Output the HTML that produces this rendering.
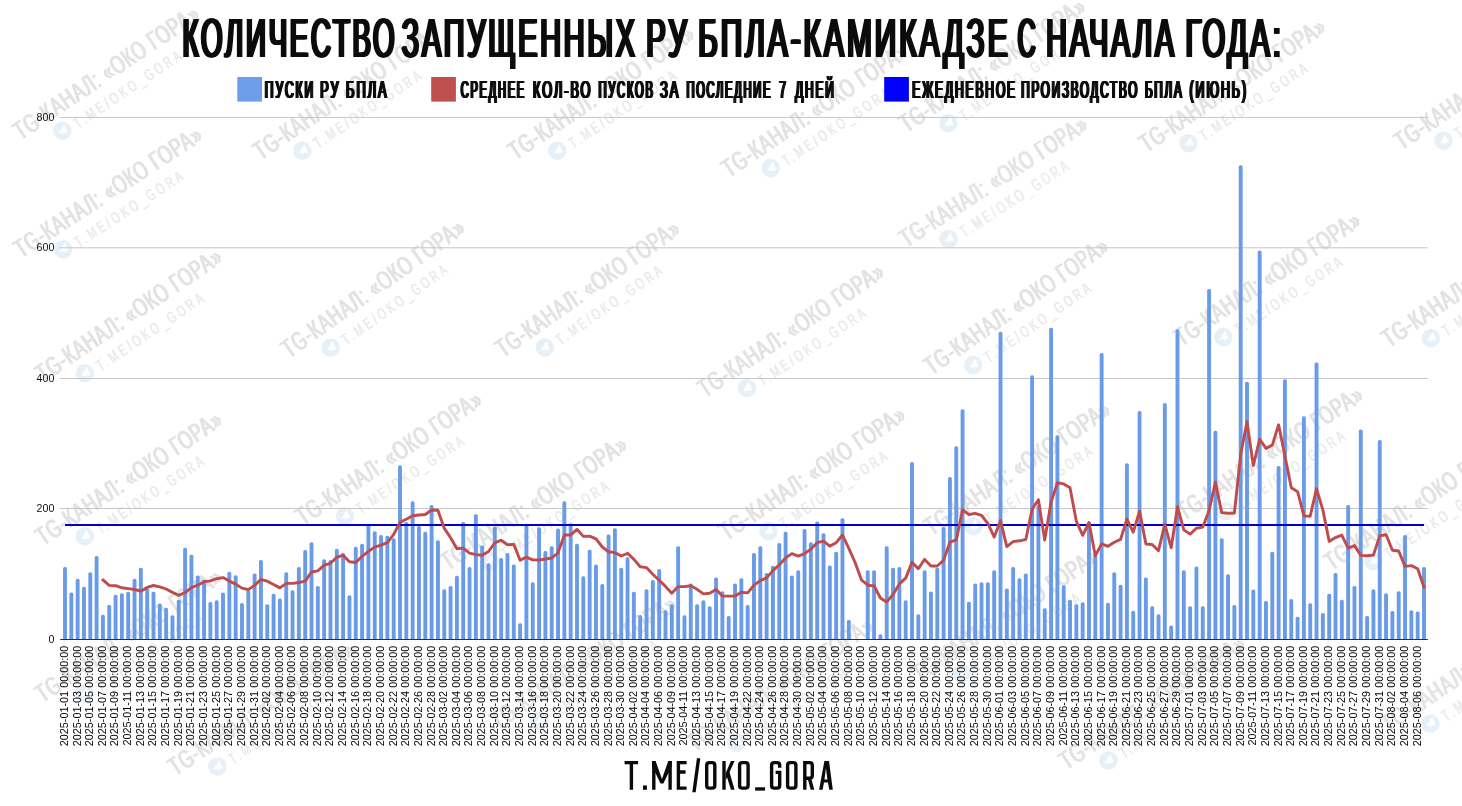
<!DOCTYPE html>
<html lang="ru"><head><meta charset="utf-8"><title>БПЛА</title>
<style>html,body{margin:0;padding:0;background:#fff}body{width:1462px;height:806px;overflow:hidden;font-family:"Liberation Sans",sans-serif}svg{display:block}.sf{filter:blur(0.35px)}text{font-family:"Liberation Sans",sans-serif}</style>
</head><body>
<svg width="1462" height="806" viewBox="0 0 1462 806">
<rect width="1462" height="806" fill="#fff"/>
<g id="watermarks" style="filter:blur(0.5px)">
<g transform="translate(20.0 141.2) rotate(-34.0)"><g font-size="26" fill="#e3e3e3" letter-spacing="1.5"><text x="0.3" y="0" textLength="219" lengthAdjust="spacingAndGlyphs">TG-КАНАЛ: «ОКО ГОРА»</text><text x="1.0" y="0" textLength="219" lengthAdjust="spacingAndGlyphs">TG-КАНАЛ: «ОКО ГОРА»</text><text x="1.7" y="0" textLength="219" lengthAdjust="spacingAndGlyphs">TG-КАНАЛ: «ОКО ГОРА»</text></g><circle cx="41" cy="15" r="9.2" fill="#e6f0f9"/><path d="M36.2,15.2 L46.2,10.6 L44.4,19.8 L41.3,17.6 L39.8,19.2 L39.6,16.6 Z" fill="#fff"/><g font-size="16" fill="#eaeaea" letter-spacing="5"><text x="54.7" y="22.5" textLength="129" lengthAdjust="spacingAndGlyphs">T.ME/OKO_GORA</text><text x="55.3" y="22.5" textLength="129" lengthAdjust="spacingAndGlyphs">T.ME/OKO_GORA</text></g></g>
<g transform="translate(260.0 161.2) rotate(-34.0)"><g font-size="26" fill="#e3e3e3" letter-spacing="1.5"><text x="0.3" y="0" textLength="219" lengthAdjust="spacingAndGlyphs">TG-КАНАЛ: «ОКО ГОРА»</text><text x="1.0" y="0" textLength="219" lengthAdjust="spacingAndGlyphs">TG-КАНАЛ: «ОКО ГОРА»</text><text x="1.7" y="0" textLength="219" lengthAdjust="spacingAndGlyphs">TG-КАНАЛ: «ОКО ГОРА»</text></g><circle cx="41" cy="15" r="9.2" fill="#e6f0f9"/><path d="M36.2,15.2 L46.2,10.6 L44.4,19.8 L41.3,17.6 L39.8,19.2 L39.6,16.6 Z" fill="#fff"/><g font-size="16" fill="#eaeaea" letter-spacing="5"><text x="54.7" y="22.5" textLength="129" lengthAdjust="spacingAndGlyphs">T.ME/OKO_GORA</text><text x="55.3" y="22.5" textLength="129" lengthAdjust="spacingAndGlyphs">T.ME/OKO_GORA</text></g></g>
<g transform="translate(515.0 161.2) rotate(-34.0)"><g font-size="26" fill="#e3e3e3" letter-spacing="1.5"><text x="0.3" y="0" textLength="219" lengthAdjust="spacingAndGlyphs">TG-КАНАЛ: «ОКО ГОРА»</text><text x="1.0" y="0" textLength="219" lengthAdjust="spacingAndGlyphs">TG-КАНАЛ: «ОКО ГОРА»</text><text x="1.7" y="0" textLength="219" lengthAdjust="spacingAndGlyphs">TG-КАНАЛ: «ОКО ГОРА»</text></g><circle cx="41" cy="15" r="9.2" fill="#e6f0f9"/><path d="M36.2,15.2 L46.2,10.6 L44.4,19.8 L41.3,17.6 L39.8,19.2 L39.6,16.6 Z" fill="#fff"/><g font-size="16" fill="#eaeaea" letter-spacing="5"><text x="54.7" y="22.5" textLength="129" lengthAdjust="spacingAndGlyphs">T.ME/OKO_GORA</text><text x="55.3" y="22.5" textLength="129" lengthAdjust="spacingAndGlyphs">T.ME/OKO_GORA</text></g></g>
<g transform="translate(728.5 178.7) rotate(-34.0)"><g font-size="26" fill="#e3e3e3" letter-spacing="1.5"><text x="0.3" y="0" textLength="219" lengthAdjust="spacingAndGlyphs">TG-КАНАЛ: «ОКО ГОРА»</text><text x="1.0" y="0" textLength="219" lengthAdjust="spacingAndGlyphs">TG-КАНАЛ: «ОКО ГОРА»</text><text x="1.7" y="0" textLength="219" lengthAdjust="spacingAndGlyphs">TG-КАНАЛ: «ОКО ГОРА»</text></g><circle cx="41" cy="15" r="9.2" fill="#e6f0f9"/><path d="M36.2,15.2 L46.2,10.6 L44.4,19.8 L41.3,17.6 L39.8,19.2 L39.6,16.6 Z" fill="#fff"/><g font-size="16" fill="#eaeaea" letter-spacing="5"><text x="54.7" y="22.5" textLength="129" lengthAdjust="spacingAndGlyphs">T.ME/OKO_GORA</text><text x="55.3" y="22.5" textLength="129" lengthAdjust="spacingAndGlyphs">T.ME/OKO_GORA</text></g></g>
<g transform="translate(906.0 133.7) rotate(-34.0)"><g font-size="26" fill="#e3e3e3" letter-spacing="1.5"><text x="0.3" y="0" textLength="219" lengthAdjust="spacingAndGlyphs">TG-КАНАЛ: «ОКО ГОРА»</text><text x="1.0" y="0" textLength="219" lengthAdjust="spacingAndGlyphs">TG-КАНАЛ: «ОКО ГОРА»</text><text x="1.7" y="0" textLength="219" lengthAdjust="spacingAndGlyphs">TG-КАНАЛ: «ОКО ГОРА»</text></g><circle cx="41" cy="15" r="9.2" fill="#e6f0f9"/><path d="M36.2,15.2 L46.2,10.6 L44.4,19.8 L41.3,17.6 L39.8,19.2 L39.6,16.6 Z" fill="#fff"/><g font-size="16" fill="#eaeaea" letter-spacing="5"><text x="54.7" y="22.5" textLength="129" lengthAdjust="spacingAndGlyphs">T.ME/OKO_GORA</text><text x="55.3" y="22.5" textLength="129" lengthAdjust="spacingAndGlyphs">T.ME/OKO_GORA</text></g></g>
<g transform="translate(1146.0 153.7) rotate(-34.0)"><g font-size="26" fill="#e3e3e3" letter-spacing="1.5"><text x="0.3" y="0" textLength="219" lengthAdjust="spacingAndGlyphs">TG-КАНАЛ: «ОКО ГОРА»</text><text x="1.0" y="0" textLength="219" lengthAdjust="spacingAndGlyphs">TG-КАНАЛ: «ОКО ГОРА»</text><text x="1.7" y="0" textLength="219" lengthAdjust="spacingAndGlyphs">TG-КАНАЛ: «ОКО ГОРА»</text></g><circle cx="41" cy="15" r="9.2" fill="#e6f0f9"/><path d="M36.2,15.2 L46.2,10.6 L44.4,19.8 L41.3,17.6 L39.8,19.2 L39.6,16.6 Z" fill="#fff"/><g font-size="16" fill="#eaeaea" letter-spacing="5"><text x="54.7" y="22.5" textLength="129" lengthAdjust="spacingAndGlyphs">T.ME/OKO_GORA</text><text x="55.3" y="22.5" textLength="129" lengthAdjust="spacingAndGlyphs">T.ME/OKO_GORA</text></g></g>
<g transform="translate(1401.0 151.2) rotate(-34.0)"><g font-size="26" fill="#e3e3e3" letter-spacing="1.5"><text x="0.3" y="0" textLength="219" lengthAdjust="spacingAndGlyphs">TG-КАНАЛ: «ОКО ГОРА»</text><text x="1.0" y="0" textLength="219" lengthAdjust="spacingAndGlyphs">TG-КАНАЛ: «ОКО ГОРА»</text><text x="1.7" y="0" textLength="219" lengthAdjust="spacingAndGlyphs">TG-КАНАЛ: «ОКО ГОРА»</text></g><circle cx="41" cy="15" r="9.2" fill="#e6f0f9"/><path d="M36.2,15.2 L46.2,10.6 L44.4,19.8 L41.3,17.6 L39.8,19.2 L39.6,16.6 Z" fill="#fff"/><g font-size="16" fill="#eaeaea" letter-spacing="5"><text x="54.7" y="22.5" textLength="129" lengthAdjust="spacingAndGlyphs">T.ME/OKO_GORA</text><text x="55.3" y="22.5" textLength="129" lengthAdjust="spacingAndGlyphs">T.ME/OKO_GORA</text></g></g>
<g transform="translate(20.5 259.0) rotate(-33.0)"><g font-size="26" fill="#e3e3e3" letter-spacing="1.5"><text x="0.3" y="0" textLength="219" lengthAdjust="spacingAndGlyphs">TG-КАНАЛ: «ОКО ГОРА»</text><text x="1.0" y="0" textLength="219" lengthAdjust="spacingAndGlyphs">TG-КАНАЛ: «ОКО ГОРА»</text><text x="1.7" y="0" textLength="219" lengthAdjust="spacingAndGlyphs">TG-КАНАЛ: «ОКО ГОРА»</text></g><circle cx="41" cy="15" r="9.2" fill="#e6f0f9"/><path d="M36.2,15.2 L46.2,10.6 L44.4,19.8 L41.3,17.6 L39.8,19.2 L39.6,16.6 Z" fill="#fff"/><g font-size="16" fill="#eaeaea" letter-spacing="5"><text x="54.7" y="22.5" textLength="129" lengthAdjust="spacingAndGlyphs">T.ME/OKO_GORA</text><text x="55.3" y="22.5" textLength="129" lengthAdjust="spacingAndGlyphs">T.ME/OKO_GORA</text></g></g>
<g transform="translate(906.0 248.7) rotate(-33.0)"><g font-size="26" fill="#e3e3e3" letter-spacing="1.5"><text x="0.3" y="0" textLength="219" lengthAdjust="spacingAndGlyphs">TG-КАНАЛ: «ОКО ГОРА»</text><text x="1.0" y="0" textLength="219" lengthAdjust="spacingAndGlyphs">TG-КАНАЛ: «ОКО ГОРА»</text><text x="1.7" y="0" textLength="219" lengthAdjust="spacingAndGlyphs">TG-КАНАЛ: «ОКО ГОРА»</text></g><circle cx="41" cy="15" r="9.2" fill="#e6f0f9"/><path d="M36.2,15.2 L46.2,10.6 L44.4,19.8 L41.3,17.6 L39.8,19.2 L39.6,16.6 Z" fill="#fff"/><g font-size="16" fill="#eaeaea" letter-spacing="5"><text x="54.7" y="22.5" textLength="129" lengthAdjust="spacingAndGlyphs">T.ME/OKO_GORA</text><text x="55.3" y="22.5" textLength="129" lengthAdjust="spacingAndGlyphs">T.ME/OKO_GORA</text></g></g>
<g transform="translate(42.5 383.7) rotate(-34.0)"><g font-size="26" fill="#e3e3e3" letter-spacing="1.5"><text x="0.3" y="0" textLength="219" lengthAdjust="spacingAndGlyphs">TG-КАНАЛ: «ОКО ГОРА»</text><text x="1.0" y="0" textLength="219" lengthAdjust="spacingAndGlyphs">TG-КАНАЛ: «ОКО ГОРА»</text><text x="1.7" y="0" textLength="219" lengthAdjust="spacingAndGlyphs">TG-КАНАЛ: «ОКО ГОРА»</text></g><circle cx="41" cy="15" r="9.2" fill="#e6f0f9"/><path d="M36.2,15.2 L46.2,10.6 L44.4,19.8 L41.3,17.6 L39.8,19.2 L39.6,16.6 Z" fill="#fff"/><g font-size="16" fill="#eaeaea" letter-spacing="5"><text x="54.7" y="22.5" textLength="129" lengthAdjust="spacingAndGlyphs">T.ME/OKO_GORA</text><text x="55.3" y="22.5" textLength="129" lengthAdjust="spacingAndGlyphs">T.ME/OKO_GORA</text></g></g>
<g transform="translate(288.6 359.2) rotate(-35.5)"><g font-size="26" fill="#e3e3e3" letter-spacing="1.5"><text x="0.3" y="0" textLength="219" lengthAdjust="spacingAndGlyphs">TG-КАНАЛ: «ОКО ГОРА»</text><text x="1.0" y="0" textLength="219" lengthAdjust="spacingAndGlyphs">TG-КАНАЛ: «ОКО ГОРА»</text><text x="1.7" y="0" textLength="219" lengthAdjust="spacingAndGlyphs">TG-КАНАЛ: «ОКО ГОРА»</text></g><circle cx="41" cy="15" r="9.2" fill="#e6f0f9"/><path d="M36.2,15.2 L46.2,10.6 L44.4,19.8 L41.3,17.6 L39.8,19.2 L39.6,16.6 Z" fill="#fff"/><g font-size="16" fill="#eaeaea" letter-spacing="5"><text x="54.7" y="22.5" textLength="129" lengthAdjust="spacingAndGlyphs">T.ME/OKO_GORA</text><text x="55.3" y="22.5" textLength="129" lengthAdjust="spacingAndGlyphs">T.ME/OKO_GORA</text></g></g>
<g transform="translate(502.5 358.7) rotate(-35.0)"><g font-size="26" fill="#e3e3e3" letter-spacing="1.5"><text x="0.3" y="0" textLength="219" lengthAdjust="spacingAndGlyphs">TG-КАНАЛ: «ОКО ГОРА»</text><text x="1.0" y="0" textLength="219" lengthAdjust="spacingAndGlyphs">TG-КАНАЛ: «ОКО ГОРА»</text><text x="1.7" y="0" textLength="219" lengthAdjust="spacingAndGlyphs">TG-КАНАЛ: «ОКО ГОРА»</text></g><circle cx="41" cy="15" r="9.2" fill="#e6f0f9"/><path d="M36.2,15.2 L46.2,10.6 L44.4,19.8 L41.3,17.6 L39.8,19.2 L39.6,16.6 Z" fill="#fff"/><g font-size="16" fill="#eaeaea" letter-spacing="5"><text x="54.7" y="22.5" textLength="129" lengthAdjust="spacingAndGlyphs">T.ME/OKO_GORA</text><text x="55.3" y="22.5" textLength="129" lengthAdjust="spacingAndGlyphs">T.ME/OKO_GORA</text></g></g>
<g transform="translate(704.5 398.7) rotate(-34.0)"><g font-size="26" fill="#e3e3e3" letter-spacing="1.5"><text x="0.3" y="0" textLength="219" lengthAdjust="spacingAndGlyphs">TG-КАНАЛ: «ОКО ГОРА»</text><text x="1.0" y="0" textLength="219" lengthAdjust="spacingAndGlyphs">TG-КАНАЛ: «ОКО ГОРА»</text><text x="1.7" y="0" textLength="219" lengthAdjust="spacingAndGlyphs">TG-КАНАЛ: «ОКО ГОРА»</text></g><circle cx="41" cy="15" r="9.2" fill="#e6f0f9"/><path d="M36.2,15.2 L46.2,10.6 L44.4,19.8 L41.3,17.6 L39.8,19.2 L39.6,16.6 Z" fill="#fff"/><g font-size="16" fill="#eaeaea" letter-spacing="5"><text x="54.7" y="22.5" textLength="129" lengthAdjust="spacingAndGlyphs">T.ME/OKO_GORA</text><text x="55.3" y="22.5" textLength="129" lengthAdjust="spacingAndGlyphs">T.ME/OKO_GORA</text></g></g>
<g transform="translate(931.0 376.2) rotate(-35.0)"><g font-size="26" fill="#e3e3e3" letter-spacing="1.5"><text x="0.3" y="0" textLength="219" lengthAdjust="spacingAndGlyphs">TG-КАНАЛ: «ОКО ГОРА»</text><text x="1.0" y="0" textLength="219" lengthAdjust="spacingAndGlyphs">TG-КАНАЛ: «ОКО ГОРА»</text><text x="1.7" y="0" textLength="219" lengthAdjust="spacingAndGlyphs">TG-КАНАЛ: «ОКО ГОРА»</text></g><circle cx="41" cy="15" r="9.2" fill="#e6f0f9"/><path d="M36.2,15.2 L46.2,10.6 L44.4,19.8 L41.3,17.6 L39.8,19.2 L39.6,16.6 Z" fill="#fff"/><g font-size="16" fill="#eaeaea" letter-spacing="5"><text x="54.7" y="22.5" textLength="129" lengthAdjust="spacingAndGlyphs">T.ME/OKO_GORA</text><text x="55.3" y="22.5" textLength="129" lengthAdjust="spacingAndGlyphs">T.ME/OKO_GORA</text></g></g>
<g transform="translate(1181.0 347.5) rotate(-34.0)"><g font-size="26" fill="#e3e3e3" letter-spacing="1.5"><text x="0.3" y="0" textLength="219" lengthAdjust="spacingAndGlyphs">TG-КАНАЛ: «ОКО ГОРА»</text><text x="1.0" y="0" textLength="219" lengthAdjust="spacingAndGlyphs">TG-КАНАЛ: «ОКО ГОРА»</text><text x="1.7" y="0" textLength="219" lengthAdjust="spacingAndGlyphs">TG-КАНАЛ: «ОКО ГОРА»</text></g><circle cx="41" cy="15" r="9.2" fill="#e6f0f9"/><path d="M36.2,15.2 L46.2,10.6 L44.4,19.8 L41.3,17.6 L39.8,19.2 L39.6,16.6 Z" fill="#fff"/><g font-size="16" fill="#eaeaea" letter-spacing="5"><text x="54.7" y="22.5" textLength="129" lengthAdjust="spacingAndGlyphs">T.ME/OKO_GORA</text><text x="55.3" y="22.5" textLength="129" lengthAdjust="spacingAndGlyphs">T.ME/OKO_GORA</text></g></g>
<g transform="translate(1388.5 348.7) rotate(-34.0)"><g font-size="26" fill="#e3e3e3" letter-spacing="1.5"><text x="0.3" y="0" textLength="219" lengthAdjust="spacingAndGlyphs">TG-КАНАЛ: «ОКО ГОРА»</text><text x="1.0" y="0" textLength="219" lengthAdjust="spacingAndGlyphs">TG-КАНАЛ: «ОКО ГОРА»</text><text x="1.7" y="0" textLength="219" lengthAdjust="spacingAndGlyphs">TG-КАНАЛ: «ОКО ГОРА»</text></g><circle cx="41" cy="15" r="9.2" fill="#e6f0f9"/><path d="M36.2,15.2 L46.2,10.6 L44.4,19.8 L41.3,17.6 L39.8,19.2 L39.6,16.6 Z" fill="#fff"/><g font-size="16" fill="#eaeaea" letter-spacing="5"><text x="54.7" y="22.5" textLength="129" lengthAdjust="spacingAndGlyphs">T.ME/OKO_GORA</text><text x="55.3" y="22.5" textLength="129" lengthAdjust="spacingAndGlyphs">T.ME/OKO_GORA</text></g></g>
<g transform="translate(42.5 546.7) rotate(-34.0)"><g font-size="26" fill="#e3e3e3" letter-spacing="1.5"><text x="0.3" y="0" textLength="219" lengthAdjust="spacingAndGlyphs">TG-КАНАЛ: «ОКО ГОРА»</text><text x="1.0" y="0" textLength="219" lengthAdjust="spacingAndGlyphs">TG-КАНАЛ: «ОКО ГОРА»</text><text x="1.7" y="0" textLength="219" lengthAdjust="spacingAndGlyphs">TG-КАНАЛ: «ОКО ГОРА»</text></g><circle cx="41" cy="15" r="9.2" fill="#e6f0f9"/><path d="M36.2,15.2 L46.2,10.6 L44.4,19.8 L41.3,17.6 L39.8,19.2 L39.6,16.6 Z" fill="#fff"/><g font-size="16" fill="#eaeaea" letter-spacing="5"><text x="54.7" y="22.5" textLength="129" lengthAdjust="spacingAndGlyphs">T.ME/OKO_GORA</text><text x="55.3" y="22.5" textLength="129" lengthAdjust="spacingAndGlyphs">T.ME/OKO_GORA</text></g></g>
<g transform="translate(302.5 526.7) rotate(-34.0)"><g font-size="26" fill="#e3e3e3" letter-spacing="1.5"><text x="0.3" y="0" textLength="219" lengthAdjust="spacingAndGlyphs">TG-КАНАЛ: «ОКО ГОРА»</text><text x="1.0" y="0" textLength="219" lengthAdjust="spacingAndGlyphs">TG-КАНАЛ: «ОКО ГОРА»</text><text x="1.7" y="0" textLength="219" lengthAdjust="spacingAndGlyphs">TG-КАНАЛ: «ОКО ГОРА»</text></g><circle cx="41" cy="15" r="9.2" fill="#e6f0f9"/><path d="M36.2,15.2 L46.2,10.6 L44.4,19.8 L41.3,17.6 L39.8,19.2 L39.6,16.6 Z" fill="#fff"/><g font-size="16" fill="#eaeaea" letter-spacing="5"><text x="54.7" y="22.5" textLength="129" lengthAdjust="spacingAndGlyphs">T.ME/OKO_GORA</text><text x="55.3" y="22.5" textLength="129" lengthAdjust="spacingAndGlyphs">T.ME/OKO_GORA</text></g></g>
<g transform="translate(447.5 571.7) rotate(-34.0)"><g font-size="26" fill="#e3e3e3" letter-spacing="1.5"><text x="0.3" y="0" textLength="219" lengthAdjust="spacingAndGlyphs">TG-КАНАЛ: «ОКО ГОРА»</text><text x="1.0" y="0" textLength="219" lengthAdjust="spacingAndGlyphs">TG-КАНАЛ: «ОКО ГОРА»</text><text x="1.7" y="0" textLength="219" lengthAdjust="spacingAndGlyphs">TG-КАНАЛ: «ОКО ГОРА»</text></g><circle cx="41" cy="15" r="9.2" fill="#e6f0f9"/><path d="M36.2,15.2 L46.2,10.6 L44.4,19.8 L41.3,17.6 L39.8,19.2 L39.6,16.6 Z" fill="#fff"/><g font-size="16" fill="#eaeaea" letter-spacing="5"><text x="54.7" y="22.5" textLength="129" lengthAdjust="spacingAndGlyphs">T.ME/OKO_GORA</text><text x="55.3" y="22.5" textLength="129" lengthAdjust="spacingAndGlyphs">T.ME/OKO_GORA</text></g></g>
<g transform="translate(726.0 541.7) rotate(-34.0)"><g font-size="26" fill="#e3e3e3" letter-spacing="1.5"><text x="0.3" y="0" textLength="219" lengthAdjust="spacingAndGlyphs">TG-КАНАЛ: «ОКО ГОРА»</text><text x="1.0" y="0" textLength="219" lengthAdjust="spacingAndGlyphs">TG-КАНАЛ: «ОКО ГОРА»</text><text x="1.7" y="0" textLength="219" lengthAdjust="spacingAndGlyphs">TG-КАНАЛ: «ОКО ГОРА»</text></g><circle cx="41" cy="15" r="9.2" fill="#e6f0f9"/><path d="M36.2,15.2 L46.2,10.6 L44.4,19.8 L41.3,17.6 L39.8,19.2 L39.6,16.6 Z" fill="#fff"/><g font-size="16" fill="#eaeaea" letter-spacing="5"><text x="54.7" y="22.5" textLength="129" lengthAdjust="spacingAndGlyphs">T.ME/OKO_GORA</text><text x="55.3" y="22.5" textLength="129" lengthAdjust="spacingAndGlyphs">T.ME/OKO_GORA</text></g></g>
<g transform="translate(931.0 536.7) rotate(-34.0)"><g font-size="26" fill="#e3e3e3" letter-spacing="1.5"><text x="0.3" y="0" textLength="219" lengthAdjust="spacingAndGlyphs">TG-КАНАЛ: «ОКО ГОРА»</text><text x="1.0" y="0" textLength="219" lengthAdjust="spacingAndGlyphs">TG-КАНАЛ: «ОКО ГОРА»</text><text x="1.7" y="0" textLength="219" lengthAdjust="spacingAndGlyphs">TG-КАНАЛ: «ОКО ГОРА»</text></g><circle cx="41" cy="15" r="9.2" fill="#e6f0f9"/><path d="M36.2,15.2 L46.2,10.6 L44.4,19.8 L41.3,17.6 L39.8,19.2 L39.6,16.6 Z" fill="#fff"/><g font-size="16" fill="#eaeaea" letter-spacing="5"><text x="54.7" y="22.5" textLength="129" lengthAdjust="spacingAndGlyphs">T.ME/OKO_GORA</text><text x="55.3" y="22.5" textLength="129" lengthAdjust="spacingAndGlyphs">T.ME/OKO_GORA</text></g></g>
<g transform="translate(1183.5 521.7) rotate(-34.0)"><g font-size="26" fill="#e3e3e3" letter-spacing="1.5"><text x="0.3" y="0" textLength="219" lengthAdjust="spacingAndGlyphs">TG-КАНАЛ: «ОКО ГОРА»</text><text x="1.0" y="0" textLength="219" lengthAdjust="spacingAndGlyphs">TG-КАНАЛ: «ОКО ГОРА»</text><text x="1.7" y="0" textLength="219" lengthAdjust="spacingAndGlyphs">TG-КАНАЛ: «ОКО ГОРА»</text></g><circle cx="41" cy="15" r="9.2" fill="#e6f0f9"/><path d="M36.2,15.2 L46.2,10.6 L44.4,19.8 L41.3,17.6 L39.8,19.2 L39.6,16.6 Z" fill="#fff"/><g font-size="16" fill="#eaeaea" letter-spacing="5"><text x="54.7" y="22.5" textLength="129" lengthAdjust="spacingAndGlyphs">T.ME/OKO_GORA</text><text x="55.3" y="22.5" textLength="129" lengthAdjust="spacingAndGlyphs">T.ME/OKO_GORA</text></g></g>
<g transform="translate(1331.0 571.7) rotate(-34.0)"><g font-size="26" fill="#e3e3e3" letter-spacing="1.5"><text x="0.3" y="0" textLength="219" lengthAdjust="spacingAndGlyphs">TG-КАНАЛ: «ОКО ГОРА»</text><text x="1.0" y="0" textLength="219" lengthAdjust="spacingAndGlyphs">TG-КАНАЛ: «ОКО ГОРА»</text><text x="1.7" y="0" textLength="219" lengthAdjust="spacingAndGlyphs">TG-КАНАЛ: «ОКО ГОРА»</text></g><circle cx="41" cy="15" r="9.2" fill="#e6f0f9"/><path d="M36.2,15.2 L46.2,10.6 L44.4,19.8 L41.3,17.6 L39.8,19.2 L39.6,16.6 Z" fill="#fff"/><g font-size="16" fill="#eaeaea" letter-spacing="5"><text x="54.7" y="22.5" textLength="129" lengthAdjust="spacingAndGlyphs">T.ME/OKO_GORA</text><text x="55.3" y="22.5" textLength="129" lengthAdjust="spacingAndGlyphs">T.ME/OKO_GORA</text></g></g>
<g transform="translate(42.0 704.0) rotate(-34.0)"><g font-size="26" fill="#e3e3e3" letter-spacing="1.5"><text x="0.3" y="0" textLength="219" lengthAdjust="spacingAndGlyphs">TG-КАНАЛ: «ОКО ГОРА»</text><text x="1.0" y="0" textLength="219" lengthAdjust="spacingAndGlyphs">TG-КАНАЛ: «ОКО ГОРА»</text><text x="1.7" y="0" textLength="219" lengthAdjust="spacingAndGlyphs">TG-КАНАЛ: «ОКО ГОРА»</text></g><circle cx="41" cy="15" r="9.2" fill="#e6f0f9"/><path d="M36.2,15.2 L46.2,10.6 L44.4,19.8 L41.3,17.6 L39.8,19.2 L39.6,16.6 Z" fill="#fff"/><g font-size="16" fill="#eaeaea" letter-spacing="5"><text x="54.7" y="22.5" textLength="129" lengthAdjust="spacingAndGlyphs">T.ME/OKO_GORA</text><text x="55.3" y="22.5" textLength="129" lengthAdjust="spacingAndGlyphs">T.ME/OKO_GORA</text></g></g>
<g transform="translate(175.0 777.0) rotate(-34.0)"><g font-size="26" fill="#e3e3e3" letter-spacing="1.5"><text x="0.3" y="0" textLength="219" lengthAdjust="spacingAndGlyphs">TG-КАНАЛ: «ОКО ГОРА»</text><text x="1.0" y="0" textLength="219" lengthAdjust="spacingAndGlyphs">TG-КАНАЛ: «ОКО ГОРА»</text><text x="1.7" y="0" textLength="219" lengthAdjust="spacingAndGlyphs">TG-КАНАЛ: «ОКО ГОРА»</text></g><circle cx="41" cy="15" r="9.2" fill="#e6f0f9"/><path d="M36.2,15.2 L46.2,10.6 L44.4,19.8 L41.3,17.6 L39.8,19.2 L39.6,16.6 Z" fill="#fff"/><g font-size="16" fill="#eaeaea" letter-spacing="5"><text x="54.7" y="22.5" textLength="129" lengthAdjust="spacingAndGlyphs">T.ME/OKO_GORA</text><text x="55.3" y="22.5" textLength="129" lengthAdjust="spacingAndGlyphs">T.ME/OKO_GORA</text></g></g>
<g transform="translate(497.0 731.0) rotate(-34.0)"><g font-size="26" fill="#e3e3e3" letter-spacing="1.5"><text x="0.3" y="0" textLength="219" lengthAdjust="spacingAndGlyphs">TG-КАНАЛ: «ОКО ГОРА»</text><text x="1.0" y="0" textLength="219" lengthAdjust="spacingAndGlyphs">TG-КАНАЛ: «ОКО ГОРА»</text><text x="1.7" y="0" textLength="219" lengthAdjust="spacingAndGlyphs">TG-КАНАЛ: «ОКО ГОРА»</text></g><circle cx="41" cy="15" r="9.2" fill="#e6f0f9"/><path d="M36.2,15.2 L46.2,10.6 L44.4,19.8 L41.3,17.6 L39.8,19.2 L39.6,16.6 Z" fill="#fff"/><g font-size="16" fill="#eaeaea" letter-spacing="5"><text x="54.7" y="22.5" textLength="129" lengthAdjust="spacingAndGlyphs">T.ME/OKO_GORA</text><text x="55.3" y="22.5" textLength="129" lengthAdjust="spacingAndGlyphs">T.ME/OKO_GORA</text></g></g>
<g transform="translate(694.0 753.0) rotate(-34.0)"><g font-size="26" fill="#e3e3e3" letter-spacing="1.5"><text x="0.3" y="0" textLength="219" lengthAdjust="spacingAndGlyphs">TG-КАНАЛ: «ОКО ГОРА»</text><text x="1.0" y="0" textLength="219" lengthAdjust="spacingAndGlyphs">TG-КАНАЛ: «ОКО ГОРА»</text><text x="1.7" y="0" textLength="219" lengthAdjust="spacingAndGlyphs">TG-КАНАЛ: «ОКО ГОРА»</text></g><circle cx="41" cy="15" r="9.2" fill="#e6f0f9"/><path d="M36.2,15.2 L46.2,10.6 L44.4,19.8 L41.3,17.6 L39.8,19.2 L39.6,16.6 Z" fill="#fff"/><g font-size="16" fill="#eaeaea" letter-spacing="5"><text x="54.7" y="22.5" textLength="129" lengthAdjust="spacingAndGlyphs">T.ME/OKO_GORA</text><text x="55.3" y="22.5" textLength="129" lengthAdjust="spacingAndGlyphs">T.ME/OKO_GORA</text></g></g>
<g transform="translate(919.0 684.0) rotate(-34.0)"><g font-size="26" fill="#e3e3e3" letter-spacing="1.5"><text x="0.3" y="0" textLength="219" lengthAdjust="spacingAndGlyphs">TG-КАНАЛ: «ОКО ГОРА»</text><text x="1.0" y="0" textLength="219" lengthAdjust="spacingAndGlyphs">TG-КАНАЛ: «ОКО ГОРА»</text><text x="1.7" y="0" textLength="219" lengthAdjust="spacingAndGlyphs">TG-КАНАЛ: «ОКО ГОРА»</text></g><circle cx="41" cy="15" r="9.2" fill="#e6f0f9"/><path d="M36.2,15.2 L46.2,10.6 L44.4,19.8 L41.3,17.6 L39.8,19.2 L39.6,16.6 Z" fill="#fff"/><g font-size="16" fill="#eaeaea" letter-spacing="5"><text x="54.7" y="22.5" textLength="129" lengthAdjust="spacingAndGlyphs">T.ME/OKO_GORA</text><text x="55.3" y="22.5" textLength="129" lengthAdjust="spacingAndGlyphs">T.ME/OKO_GORA</text></g></g>
<g transform="translate(1066.0 771.0) rotate(-34.0)"><g font-size="26" fill="#e3e3e3" letter-spacing="1.5"><text x="0.3" y="0" textLength="219" lengthAdjust="spacingAndGlyphs">TG-КАНАЛ: «ОКО ГОРА»</text><text x="1.0" y="0" textLength="219" lengthAdjust="spacingAndGlyphs">TG-КАНАЛ: «ОКО ГОРА»</text><text x="1.7" y="0" textLength="219" lengthAdjust="spacingAndGlyphs">TG-КАНАЛ: «ОКО ГОРА»</text></g><circle cx="41" cy="15" r="9.2" fill="#e6f0f9"/><path d="M36.2,15.2 L46.2,10.6 L44.4,19.8 L41.3,17.6 L39.8,19.2 L39.6,16.6 Z" fill="#fff"/><g font-size="16" fill="#eaeaea" letter-spacing="5"><text x="54.7" y="22.5" textLength="129" lengthAdjust="spacingAndGlyphs">T.ME/OKO_GORA</text><text x="55.3" y="22.5" textLength="129" lengthAdjust="spacingAndGlyphs">T.ME/OKO_GORA</text></g></g>
<g transform="translate(1388.0 734.0) rotate(-34.0)"><g font-size="26" fill="#e3e3e3" letter-spacing="1.5"><text x="0.3" y="0" textLength="219" lengthAdjust="spacingAndGlyphs">TG-КАНАЛ: «ОКО ГОРА»</text><text x="1.0" y="0" textLength="219" lengthAdjust="spacingAndGlyphs">TG-КАНАЛ: «ОКО ГОРА»</text><text x="1.7" y="0" textLength="219" lengthAdjust="spacingAndGlyphs">TG-КАНАЛ: «ОКО ГОРА»</text></g><circle cx="41" cy="15" r="9.2" fill="#e6f0f9"/><path d="M36.2,15.2 L46.2,10.6 L44.4,19.8 L41.3,17.6 L39.8,19.2 L39.6,16.6 Z" fill="#fff"/><g font-size="16" fill="#eaeaea" letter-spacing="5"><text x="54.7" y="22.5" textLength="129" lengthAdjust="spacingAndGlyphs">T.ME/OKO_GORA</text><text x="55.3" y="22.5" textLength="129" lengthAdjust="spacingAndGlyphs">T.ME/OKO_GORA</text></g></g>
</g>
<g id="grid">
<line x1="59.5" x2="1427.8" y1="508.50" y2="508.50" stroke="#c6c6c6" stroke-width="1"/>
<line x1="59.5" x2="1427.8" y1="378.50" y2="378.50" stroke="#c6c6c6" stroke-width="1"/>
<line x1="59.5" x2="1427.8" y1="247.80" y2="247.80" stroke="#c6c6c6" stroke-width="1"/>
<line x1="59.5" x2="1427.8" y1="117.40" y2="117.40" stroke="#c6c6c6" stroke-width="1"/>
</g>
<g id="ylabels" class="sf" font-size="10.67" fill="#111" text-anchor="end">
<text x="54.4" y="642.8">0</text>
<text x="54.4" y="511.8">200</text>
<text x="54.4" y="381.8">400</text>
<text x="54.4" y="251.1">600</text>
<text x="54.4" y="120.7">800</text>
</g>
<g id="bars" fill="#6a9be8">
<path d="M63.05,639.50 V568.67 Q63.05,567.07 64.65,567.07 H65.35 Q66.95,567.07 66.95,568.67 V639.50Z"/>
<path d="M69.37,639.50 V594.12 Q69.37,592.52 70.97,592.52 H71.67 Q73.27,592.52 73.27,594.12 V639.50Z"/>
<path d="M75.69,639.50 V580.42 Q75.69,578.82 77.29,578.82 H77.99 Q79.59,578.82 79.59,580.42 V639.50Z"/>
<path d="M82.01,639.50 V588.25 Q82.01,586.65 83.61,586.65 H84.31 Q85.91,586.65 85.91,588.25 V639.50Z"/>
<path d="M88.33,639.50 V573.89 Q88.33,572.29 89.93,572.29 H90.63 Q92.23,572.29 92.23,573.89 V639.50Z"/>
<path d="M94.65,639.50 V557.58 Q94.65,555.98 96.25,555.98 H96.95 Q98.55,555.98 98.55,557.58 V639.50Z"/>
<path d="M100.98,639.50 V616.31 Q100.98,614.71 102.58,614.71 H103.28 Q104.88,614.71 104.88,616.31 V639.50Z"/>
<path d="M107.30,639.50 V606.52 Q107.30,604.92 108.90,604.92 H109.60 Q111.20,604.92 111.20,606.52 V639.50Z"/>
<path d="M113.62,639.50 V596.40 Q113.62,594.80 115.22,594.80 H115.92 Q117.52,594.80 117.52,596.40 V639.50Z"/>
<path d="M119.94,639.50 V594.77 Q119.94,593.17 121.54,593.17 H122.24 Q123.84,593.17 123.84,594.77 V639.50Z"/>
<path d="M126.26,639.50 V593.47 Q126.26,591.87 127.86,591.87 H128.56 Q130.16,591.87 130.16,593.47 V639.50Z"/>
<path d="M132.58,639.50 V580.42 Q132.58,578.82 134.18,578.82 H134.88 Q136.48,578.82 136.48,580.42 V639.50Z"/>
<path d="M138.90,639.50 V569.33 Q138.90,567.73 140.50,567.73 H141.20 Q142.80,567.73 142.80,569.33 V639.50Z"/>
<path d="M145.22,639.50 V590.21 Q145.22,588.61 146.82,588.61 H147.52 Q149.12,588.61 149.12,590.21 V639.50Z"/>
<path d="M151.54,639.50 V593.47 Q151.54,591.87 153.14,591.87 H153.84 Q155.44,591.87 155.44,593.47 V639.50Z"/>
<path d="M157.86,639.50 V605.21 Q157.86,603.61 159.46,603.61 H160.16 Q161.76,603.61 161.76,605.21 V639.50Z"/>
<path d="M164.18,639.50 V609.45 Q164.18,607.85 165.78,607.85 H166.48 Q168.08,607.85 168.08,609.45 V639.50Z"/>
<path d="M170.51,639.50 V616.96 Q170.51,615.36 172.11,615.36 H172.81 Q174.41,615.36 174.41,616.96 V639.50Z"/>
<path d="M176.83,639.50 V601.30 Q176.83,599.70 178.43,599.70 H179.13 Q180.73,599.70 180.73,601.30 V639.50Z"/>
<path d="M183.15,639.50 V549.36 Q183.15,547.76 184.75,547.76 H185.45 Q187.05,547.76 187.05,549.36 V639.50Z"/>
<path d="M189.47,639.50 V556.27 Q189.47,554.67 191.07,554.67 H191.77 Q193.37,554.67 193.37,556.27 V639.50Z"/>
<path d="M195.79,639.50 V577.15 Q195.79,575.55 197.39,575.55 H198.09 Q199.69,575.55 199.69,577.15 V639.50Z"/>
<path d="M202.11,639.50 V581.40 Q202.11,579.80 203.71,579.80 H204.41 Q206.01,579.80 206.01,581.40 V639.50Z"/>
<path d="M208.43,639.50 V603.58 Q208.43,601.98 210.03,601.98 H210.73 Q212.33,601.98 212.33,603.58 V639.50Z"/>
<path d="M214.75,639.50 V601.95 Q214.75,600.35 216.35,600.35 H217.05 Q218.65,600.35 218.65,601.95 V639.50Z"/>
<path d="M221.07,639.50 V594.12 Q221.07,592.52 222.67,592.52 H223.37 Q224.97,592.52 224.97,594.12 V639.50Z"/>
<path d="M227.39,639.50 V573.24 Q227.39,571.64 228.99,571.64 H229.69 Q231.29,571.64 231.29,573.24 V639.50Z"/>
<path d="M233.72,639.50 V576.76 Q233.72,575.16 235.32,575.16 H236.02 Q237.62,575.16 237.62,576.76 V639.50Z"/>
<path d="M240.04,639.50 V604.56 Q240.04,602.96 241.64,602.96 H242.34 Q243.94,602.96 243.94,604.56 V639.50Z"/>
<path d="M246.36,639.50 V591.51 Q246.36,589.91 247.96,589.91 H248.66 Q250.26,589.91 250.26,591.51 V639.50Z"/>
<path d="M252.68,639.50 V575.20 Q252.68,573.60 254.28,573.60 H254.98 Q256.58,573.60 256.58,575.20 V639.50Z"/>
<path d="M259.00,639.50 V561.50 Q259.00,559.89 260.60,559.89 H261.30 Q262.90,559.89 262.90,561.50 V639.50Z"/>
<path d="M265.32,639.50 V605.87 Q265.32,604.26 266.92,604.26 H267.62 Q269.22,604.26 269.22,605.87 V639.50Z"/>
<path d="M271.64,639.50 V595.43 Q271.64,593.83 273.24,593.83 H273.94 Q275.54,593.83 275.54,595.43 V639.50Z"/>
<path d="M277.96,639.50 V599.99 Q277.96,598.39 279.56,598.39 H280.26 Q281.86,598.39 281.86,599.99 V639.50Z"/>
<path d="M284.28,639.50 V573.89 Q284.28,572.29 285.88,572.29 H286.58 Q288.18,572.29 288.18,573.89 V639.50Z"/>
<path d="M290.60,639.50 V591.84 Q290.60,590.24 292.20,590.24 H292.90 Q294.50,590.24 294.50,591.84 V639.50Z"/>
<path d="M296.92,639.50 V568.67 Q296.92,567.07 298.52,567.07 H299.22 Q300.82,567.07 300.82,568.67 V639.50Z"/>
<path d="M303.25,639.50 V551.71 Q303.25,550.11 304.85,550.11 H305.55 Q307.15,550.11 307.15,551.71 V639.50Z"/>
<path d="M309.57,639.50 V543.88 Q309.57,542.28 311.17,542.28 H311.87 Q313.47,542.28 313.47,543.88 V639.50Z"/>
<path d="M315.89,639.50 V587.60 Q315.89,586.00 317.49,586.00 H318.19 Q319.79,586.00 319.79,587.60 V639.50Z"/>
<path d="M322.21,639.50 V560.84 Q322.21,559.24 323.81,559.24 H324.51 Q326.11,559.24 326.11,560.84 V639.50Z"/>
<path d="M328.53,639.50 V561.50 Q328.53,559.89 330.13,559.89 H330.83 Q332.43,559.89 332.43,561.50 V639.50Z"/>
<path d="M334.85,639.50 V550.40 Q334.85,548.80 336.45,548.80 H337.15 Q338.75,548.80 338.75,550.40 V639.50Z"/>
<path d="M341.17,639.50 V554.64 Q341.17,553.04 342.77,553.04 H343.47 Q345.07,553.04 345.07,554.64 V639.50Z"/>
<path d="M347.49,639.50 V596.73 Q347.49,595.13 349.09,595.13 H349.79 Q351.39,595.13 351.39,596.73 V639.50Z"/>
<path d="M353.81,639.50 V548.45 Q353.81,546.85 355.41,546.85 H356.11 Q357.71,546.85 357.71,548.45 V639.50Z"/>
<path d="M360.13,639.50 V545.44 Q360.13,543.84 361.73,543.84 H362.43 Q364.03,543.84 364.03,545.44 V639.50Z"/>
<path d="M366.45,639.50 V526.26 Q366.45,524.66 368.05,524.66 H368.75 Q370.35,524.66 370.35,526.26 V639.50Z"/>
<path d="M372.78,639.50 V532.78 Q372.78,531.18 374.38,531.18 H375.08 Q376.68,531.18 376.68,532.78 V639.50Z"/>
<path d="M379.10,639.50 V536.70 Q379.10,535.10 380.70,535.10 H381.40 Q383.00,535.10 383.00,536.70 V639.50Z"/>
<path d="M385.42,639.50 V537.35 Q385.42,535.75 387.02,535.75 H387.72 Q389.32,535.75 389.32,537.35 V639.50Z"/>
<path d="M391.74,639.50 V539.96 Q391.74,538.36 393.34,538.36 H394.04 Q395.64,538.36 395.64,539.96 V639.50Z"/>
<path d="M398.06,639.50 V466.88 Q398.06,465.28 399.66,465.28 H400.36 Q401.96,465.28 401.96,466.88 V639.50Z"/>
<path d="M404.38,639.50 V523.65 Q404.38,522.05 405.98,522.05 H406.68 Q408.28,522.05 408.28,523.65 V639.50Z"/>
<path d="M410.70,639.50 V502.77 Q410.70,501.17 412.30,501.17 H413.00 Q414.60,501.17 414.60,502.77 V639.50Z"/>
<path d="M417.02,639.50 V527.57 Q417.02,525.97 418.62,525.97 H419.32 Q420.92,525.97 420.92,527.57 V639.50Z"/>
<path d="M423.34,639.50 V533.44 Q423.34,531.84 424.94,531.84 H425.64 Q427.24,531.84 427.24,533.44 V639.50Z"/>
<path d="M429.66,639.50 V506.69 Q429.66,505.09 431.26,505.09 H431.96 Q433.56,505.09 433.56,506.69 V639.50Z"/>
<path d="M435.98,639.50 V541.92 Q435.98,540.32 437.58,540.32 H438.28 Q439.88,540.32 439.88,541.92 V639.50Z"/>
<path d="M442.31,639.50 V590.86 Q442.31,589.26 443.91,589.26 H444.61 Q446.21,589.26 446.21,590.86 V639.50Z"/>
<path d="M448.63,639.50 V587.60 Q448.63,586.00 450.23,586.00 H450.93 Q452.53,586.00 452.53,587.60 V639.50Z"/>
<path d="M454.95,639.50 V577.42 Q454.95,575.82 456.55,575.82 H457.25 Q458.85,575.82 458.85,577.42 V639.50Z"/>
<path d="M461.27,639.50 V523.65 Q461.27,522.05 462.87,522.05 H463.57 Q465.17,522.05 465.17,523.65 V639.50Z"/>
<path d="M467.59,639.50 V568.67 Q467.59,567.07 469.19,567.07 H469.89 Q471.49,567.07 471.49,568.67 V639.50Z"/>
<path d="M473.91,639.50 V515.82 Q473.91,514.22 475.51,514.22 H476.21 Q477.81,514.22 477.81,515.82 V639.50Z"/>
<path d="M480.23,639.50 V547.14 Q480.23,545.54 481.83,545.54 H482.53 Q484.13,545.54 484.13,547.14 V639.50Z"/>
<path d="M486.55,639.50 V564.76 Q486.55,563.16 488.15,563.16 H488.85 Q490.45,563.16 490.45,564.76 V639.50Z"/>
<path d="M492.87,639.50 V528.22 Q492.87,526.62 494.47,526.62 H495.17 Q496.77,526.62 496.77,528.22 V639.50Z"/>
<path d="M499.19,639.50 V559.54 Q499.19,557.94 500.79,557.94 H501.49 Q503.09,557.94 503.09,559.54 V639.50Z"/>
<path d="M505.52,639.50 V554.64 Q505.52,553.04 507.12,553.04 H507.82 Q509.42,553.04 509.42,554.64 V639.50Z"/>
<path d="M511.84,639.50 V566.06 Q511.84,564.46 513.44,564.46 H514.14 Q515.74,564.46 515.74,566.06 V639.50Z"/>
<path d="M518.16,639.50 V624.79 Q518.16,623.19 519.76,623.19 H520.46 Q522.06,623.19 522.06,624.79 V639.50Z"/>
<path d="M524.48,639.50 V525.61 Q524.48,524.01 526.08,524.01 H526.78 Q528.38,524.01 528.38,525.61 V639.50Z"/>
<path d="M530.80,639.50 V583.88 Q530.80,582.28 532.40,582.28 H533.10 Q534.70,582.28 534.70,583.88 V639.50Z"/>
<path d="M537.12,639.50 V528.87 Q537.12,527.27 538.72,527.27 H539.42 Q541.02,527.27 541.02,528.87 V639.50Z"/>
<path d="M543.44,639.50 V552.62 Q543.44,551.02 545.04,551.02 H545.74 Q547.34,551.02 547.34,552.62 V639.50Z"/>
<path d="M549.76,639.50 V547.79 Q549.76,546.19 551.36,546.19 H552.06 Q553.66,546.19 553.66,547.79 V639.50Z"/>
<path d="M556.08,639.50 V530.18 Q556.08,528.58 557.68,528.58 H558.38 Q559.98,528.58 559.98,530.18 V639.50Z"/>
<path d="M562.40,639.50 V502.77 Q562.40,501.17 564.00,501.17 H564.70 Q566.30,501.17 566.30,502.77 V639.50Z"/>
<path d="M568.72,639.50 V524.96 Q568.72,523.36 570.32,523.36 H571.02 Q572.62,523.36 572.62,524.96 V639.50Z"/>
<path d="M575.05,639.50 V545.44 Q575.05,543.84 576.65,543.84 H577.35 Q578.95,543.84 578.95,545.44 V639.50Z"/>
<path d="M581.37,639.50 V577.81 Q581.37,576.21 582.97,576.21 H583.67 Q585.27,576.21 585.27,577.81 V639.50Z"/>
<path d="M587.69,639.50 V551.38 Q587.69,549.78 589.29,549.78 H589.99 Q591.59,549.78 591.59,551.38 V639.50Z"/>
<path d="M594.01,639.50 V566.06 Q594.01,564.46 595.61,564.46 H596.31 Q597.91,564.46 597.91,566.06 V639.50Z"/>
<path d="M600.33,639.50 V585.64 Q600.33,584.04 601.93,584.04 H602.63 Q604.23,584.04 604.23,585.64 V639.50Z"/>
<path d="M606.65,639.50 V536.05 Q606.65,534.45 608.25,534.45 H608.95 Q610.55,534.45 610.55,536.05 V639.50Z"/>
<path d="M612.97,639.50 V529.78 Q612.97,528.18 614.57,528.18 H615.27 Q616.87,528.18 616.87,529.78 V639.50Z"/>
<path d="M619.29,639.50 V569.33 Q619.29,567.73 620.89,567.73 H621.59 Q623.19,567.73 623.19,569.33 V639.50Z"/>
<path d="M625.61,639.50 V558.88 Q625.61,557.28 627.21,557.28 H627.91 Q629.51,557.28 629.51,558.88 V639.50Z"/>
<path d="M631.93,639.50 V593.47 Q631.93,591.87 633.53,591.87 H634.23 Q635.83,591.87 635.83,593.47 V639.50Z"/>
<path d="M638.25,639.50 V616.63 Q638.25,615.03 639.85,615.03 H640.55 Q642.15,615.03 642.15,616.63 V639.50Z"/>
<path d="M644.58,639.50 V590.86 Q644.58,589.26 646.18,589.26 H646.88 Q648.48,589.26 648.48,590.86 V639.50Z"/>
<path d="M650.90,639.50 V581.72 Q650.90,580.12 652.50,580.12 H653.20 Q654.80,580.12 654.80,581.72 V639.50Z"/>
<path d="M657.22,639.50 V570.63 Q657.22,569.03 658.82,569.03 H659.52 Q661.12,569.03 661.12,570.63 V639.50Z"/>
<path d="M663.54,639.50 V611.74 Q663.54,610.14 665.14,610.14 H665.84 Q667.44,610.14 667.44,611.74 V639.50Z"/>
<path d="M669.86,639.50 V605.87 Q669.86,604.26 671.46,604.26 H672.16 Q673.76,604.26 673.76,605.87 V639.50Z"/>
<path d="M676.18,639.50 V547.79 Q676.18,546.19 677.78,546.19 H678.48 Q680.08,546.19 680.08,547.79 V639.50Z"/>
<path d="M682.50,639.50 V616.96 Q682.50,615.36 684.10,615.36 H684.80 Q686.40,615.36 686.40,616.96 V639.50Z"/>
<path d="M688.82,639.50 V584.99 Q688.82,583.38 690.42,583.38 H691.12 Q692.72,583.38 692.72,584.99 V639.50Z"/>
<path d="M695.14,639.50 V605.87 Q695.14,604.26 696.74,604.26 H697.44 Q699.04,604.26 699.04,605.87 V639.50Z"/>
<path d="M701.46,639.50 V601.95 Q701.46,600.35 703.06,600.35 H703.76 Q705.36,600.35 705.36,601.95 V639.50Z"/>
<path d="M707.78,639.50 V607.82 Q707.78,606.22 709.38,606.22 H710.08 Q711.68,606.22 711.68,607.82 V639.50Z"/>
<path d="M714.11,639.50 V579.11 Q714.11,577.51 715.71,577.51 H716.41 Q718.01,577.51 718.01,579.11 V639.50Z"/>
<path d="M720.43,639.50 V592.82 Q720.43,591.22 722.03,591.22 H722.73 Q724.33,591.22 724.33,592.82 V639.50Z"/>
<path d="M726.75,639.50 V617.61 Q726.75,616.01 728.35,616.01 H729.05 Q730.65,616.01 730.65,617.61 V639.50Z"/>
<path d="M733.07,639.50 V584.99 Q733.07,583.38 734.67,583.38 H735.37 Q736.97,583.38 736.97,584.99 V639.50Z"/>
<path d="M739.39,639.50 V579.76 Q739.39,578.16 740.99,578.16 H741.69 Q743.29,578.16 743.29,579.76 V639.50Z"/>
<path d="M745.71,639.50 V606.71 Q745.71,605.11 747.31,605.11 H748.01 Q749.61,605.11 749.61,606.71 V639.50Z"/>
<path d="M752.03,639.50 V554.64 Q752.03,553.04 753.63,553.04 H754.33 Q755.93,553.04 755.93,554.64 V639.50Z"/>
<path d="M758.35,639.50 V547.79 Q758.35,546.19 759.95,546.19 H760.65 Q762.25,546.19 762.25,547.79 V639.50Z"/>
<path d="M764.67,639.50 V574.55 Q764.67,572.95 766.27,572.95 H766.97 Q768.57,572.95 768.57,574.55 V639.50Z"/>
<path d="M770.99,639.50 V567.37 Q770.99,565.77 772.59,565.77 H773.29 Q774.89,565.77 774.89,567.37 V639.50Z"/>
<path d="M777.32,639.50 V544.53 Q777.32,542.93 778.92,542.93 H779.62 Q781.22,542.93 781.22,544.53 V639.50Z"/>
<path d="M783.64,639.50 V533.44 Q783.64,531.84 785.24,531.84 H785.94 Q787.54,531.84 787.54,533.44 V639.50Z"/>
<path d="M789.96,639.50 V577.15 Q789.96,575.55 791.56,575.55 H792.26 Q793.86,575.55 793.86,577.15 V639.50Z"/>
<path d="M796.28,639.50 V571.94 Q796.28,570.34 797.88,570.34 H798.58 Q800.18,570.34 800.18,571.94 V639.50Z"/>
<path d="M802.60,639.50 V530.50 Q802.60,528.90 804.20,528.90 H804.90 Q806.50,528.90 806.50,530.50 V639.50Z"/>
<path d="M808.92,639.50 V543.88 Q808.92,542.28 810.52,542.28 H811.22 Q812.82,542.28 812.82,543.88 V639.50Z"/>
<path d="M815.24,639.50 V523.00 Q815.24,521.40 816.84,521.40 H817.54 Q819.14,521.40 819.14,523.00 V639.50Z"/>
<path d="M821.56,639.50 V534.74 Q821.56,533.14 823.16,533.14 H823.86 Q825.46,533.14 825.46,534.74 V639.50Z"/>
<path d="M827.88,639.50 V567.04 Q827.88,565.44 829.48,565.44 H830.18 Q831.78,565.44 831.78,567.04 V639.50Z"/>
<path d="M834.20,639.50 V553.34 Q834.20,551.74 835.80,551.74 H836.50 Q838.10,551.74 838.10,553.34 V639.50Z"/>
<path d="M840.52,639.50 V519.74 Q840.52,518.13 842.12,518.13 H842.82 Q844.42,518.13 844.42,519.74 V639.50Z"/>
<path d="M846.85,639.50 V621.52 Q846.85,619.92 848.45,619.92 H849.15 Q850.75,619.92 850.75,621.52 V639.50Z"/>
<path d="M865.81,639.50 V571.94 Q865.81,570.34 867.41,570.34 H868.11 Q869.71,570.34 869.71,571.94 V639.50Z"/>
<path d="M872.13,639.50 V571.94 Q872.13,570.34 873.73,570.34 H874.43 Q876.03,570.34 876.03,571.94 V639.50Z"/>
<path d="M878.45,639.50 V635.88 Q878.45,634.28 880.05,634.28 H880.75 Q882.35,634.28 882.35,635.88 V639.50Z"/>
<path d="M884.77,639.50 V547.79 Q884.77,546.19 886.37,546.19 H887.07 Q888.67,546.19 888.67,547.79 V639.50Z"/>
<path d="M891.09,639.50 V569.33 Q891.09,567.73 892.69,567.73 H893.39 Q894.99,567.73 894.99,569.33 V639.50Z"/>
<path d="M897.41,639.50 V568.67 Q897.41,567.07 899.01,567.07 H899.71 Q901.31,567.07 901.31,568.67 V639.50Z"/>
<path d="M903.73,639.50 V601.95 Q903.73,600.35 905.33,600.35 H906.03 Q907.63,600.35 907.63,601.95 V639.50Z"/>
<path d="M910.05,639.50 V463.62 Q910.05,462.02 911.65,462.02 H912.35 Q913.95,462.02 913.95,463.62 V639.50Z"/>
<path d="M916.38,639.50 V615.91 Q916.38,614.31 917.98,614.31 H918.68 Q920.28,614.31 920.28,615.91 V639.50Z"/>
<path d="M922.70,639.50 V571.94 Q922.70,570.34 924.30,570.34 H925.00 Q926.60,570.34 926.60,571.94 V639.50Z"/>
<path d="M929.02,639.50 V593.08 Q929.02,591.48 930.62,591.48 H931.32 Q932.92,591.48 932.92,593.08 V639.50Z"/>
<path d="M935.34,639.50 V569.33 Q935.34,567.73 936.94,567.73 H937.64 Q939.24,567.73 939.24,569.33 V639.50Z"/>
<path d="M941.66,639.50 V528.54 Q941.66,526.94 943.26,526.94 H943.96 Q945.56,526.94 945.56,528.54 V639.50Z"/>
<path d="M947.98,639.50 V478.63 Q947.98,477.03 949.58,477.03 H950.28 Q951.88,477.03 951.88,478.63 V639.50Z"/>
<path d="M954.30,639.50 V447.96 Q954.30,446.36 955.90,446.36 H956.60 Q958.20,446.36 958.20,447.96 V639.50Z"/>
<path d="M960.62,639.50 V410.77 Q960.62,409.17 962.22,409.17 H962.92 Q964.52,409.17 964.52,410.77 V639.50Z"/>
<path d="M966.94,639.50 V603.25 Q966.94,601.65 968.54,601.65 H969.24 Q970.84,601.65 970.84,603.25 V639.50Z"/>
<path d="M973.26,639.50 V584.99 Q973.26,583.38 974.86,583.38 H975.56 Q977.16,583.38 977.16,584.99 V639.50Z"/>
<path d="M979.58,639.50 V583.88 Q979.58,582.28 981.18,582.28 H981.88 Q983.48,582.28 983.48,583.88 V639.50Z"/>
<path d="M985.91,639.50 V583.88 Q985.91,582.28 987.51,582.28 H988.21 Q989.81,582.28 989.81,583.88 V639.50Z"/>
<path d="M992.23,639.50 V571.94 Q992.23,570.34 993.83,570.34 H994.53 Q996.13,570.34 996.13,571.94 V639.50Z"/>
<path d="M998.55,639.50 V333.38 Q998.55,331.78 1000.15,331.78 H1000.85 Q1002.45,331.78 1002.45,333.38 V639.50Z"/>
<path d="M1004.87,639.50 V590.21 Q1004.87,588.61 1006.47,588.61 H1007.17 Q1008.77,588.61 1008.77,590.21 V639.50Z"/>
<path d="M1011.19,639.50 V568.67 Q1011.19,567.07 1012.79,567.07 H1013.49 Q1015.09,567.07 1015.09,568.67 V639.50Z"/>
<path d="M1017.51,639.50 V579.76 Q1017.51,578.16 1019.11,578.16 H1019.81 Q1021.41,578.16 1021.41,579.76 V639.50Z"/>
<path d="M1023.83,639.50 V575.20 Q1023.83,573.60 1025.43,573.60 H1026.13 Q1027.73,573.60 1027.73,575.20 V639.50Z"/>
<path d="M1030.15,639.50 V376.84 Q1030.15,375.24 1031.75,375.24 H1032.45 Q1034.05,375.24 1034.05,376.84 V639.50Z"/>
<path d="M1036.47,639.50 V506.69 Q1036.47,505.09 1038.07,505.09 H1038.77 Q1040.37,505.09 1040.37,506.69 V639.50Z"/>
<path d="M1042.79,639.50 V609.78 Q1042.79,608.18 1044.39,608.18 H1045.09 Q1046.69,608.18 1046.69,609.78 V639.50Z"/>
<path d="M1049.12,639.50 V329.40 Q1049.12,327.80 1050.72,327.80 H1051.42 Q1053.02,327.80 1053.02,329.40 V639.50Z"/>
<path d="M1055.44,639.50 V436.87 Q1055.44,435.27 1057.04,435.27 H1057.74 Q1059.34,435.27 1059.34,436.87 V639.50Z"/>
<path d="M1061.76,639.50 V586.94 Q1061.76,585.34 1063.36,585.34 H1064.06 Q1065.66,585.34 1065.66,586.94 V639.50Z"/>
<path d="M1068.08,639.50 V601.30 Q1068.08,599.70 1069.68,599.70 H1070.38 Q1071.98,599.70 1071.98,601.30 V639.50Z"/>
<path d="M1074.40,639.50 V605.87 Q1074.40,604.26 1076.00,604.26 H1076.70 Q1078.30,604.26 1078.30,605.87 V639.50Z"/>
<path d="M1080.72,639.50 V603.91 Q1080.72,602.31 1082.32,602.31 H1083.02 Q1084.62,602.31 1084.62,603.91 V639.50Z"/>
<path d="M1087.04,639.50 V523.00 Q1087.04,521.40 1088.64,521.40 H1089.34 Q1090.94,521.40 1090.94,523.00 V639.50Z"/>
<path d="M1093.36,639.50 V556.27 Q1093.36,554.67 1094.96,554.67 H1095.66 Q1097.26,554.67 1097.26,556.27 V639.50Z"/>
<path d="M1099.68,639.50 V354.65 Q1099.68,353.05 1101.28,353.05 H1101.98 Q1103.58,353.05 1103.58,354.65 V639.50Z"/>
<path d="M1106.00,639.50 V604.23 Q1106.00,602.63 1107.60,602.63 H1108.30 Q1109.90,602.63 1109.90,604.23 V639.50Z"/>
<path d="M1112.32,639.50 V573.89 Q1112.32,572.29 1113.92,572.29 H1114.62 Q1116.22,572.29 1116.22,573.89 V639.50Z"/>
<path d="M1118.65,639.50 V586.29 Q1118.65,584.69 1120.25,584.69 H1120.95 Q1122.55,584.69 1122.55,586.29 V639.50Z"/>
<path d="M1124.97,639.50 V464.93 Q1124.97,463.33 1126.57,463.33 H1127.27 Q1128.87,463.33 1128.87,464.93 V639.50Z"/>
<path d="M1131.29,639.50 V612.39 Q1131.29,610.79 1132.89,610.79 H1133.59 Q1135.19,610.79 1135.19,612.39 V639.50Z"/>
<path d="M1137.61,639.50 V412.73 Q1137.61,411.12 1139.21,411.12 H1139.91 Q1141.51,411.12 1141.51,412.73 V639.50Z"/>
<path d="M1143.93,639.50 V579.11 Q1143.93,577.51 1145.53,577.51 H1146.23 Q1147.83,577.51 1147.83,579.11 V639.50Z"/>
<path d="M1150.25,639.50 V607.82 Q1150.25,606.22 1151.85,606.22 H1152.55 Q1154.15,606.22 1154.15,607.82 V639.50Z"/>
<path d="M1156.57,639.50 V615.91 Q1156.57,614.31 1158.17,614.31 H1158.87 Q1160.47,614.31 1160.47,615.91 V639.50Z"/>
<path d="M1162.89,639.50 V404.57 Q1162.89,402.97 1164.49,402.97 H1165.19 Q1166.79,402.97 1166.79,404.57 V639.50Z"/>
<path d="M1169.21,639.50 V627.07 Q1169.21,625.47 1170.81,625.47 H1171.51 Q1173.11,625.47 1173.11,627.07 V639.50Z"/>
<path d="M1175.53,639.50 V330.90 Q1175.53,329.30 1177.13,329.30 H1177.83 Q1179.43,329.30 1179.43,330.90 V639.50Z"/>
<path d="M1181.85,639.50 V571.94 Q1181.85,570.34 1183.45,570.34 H1184.15 Q1185.75,570.34 1185.75,571.94 V639.50Z"/>
<path d="M1188.18,639.50 V607.82 Q1188.18,606.22 1189.78,606.22 H1190.48 Q1192.08,606.22 1192.08,607.82 V639.50Z"/>
<path d="M1194.50,639.50 V568.02 Q1194.50,566.42 1196.10,566.42 H1196.80 Q1198.40,566.42 1198.40,568.02 V639.50Z"/>
<path d="M1200.82,639.50 V607.82 Q1200.82,606.22 1202.42,606.22 H1203.12 Q1204.72,606.22 1204.72,607.82 V639.50Z"/>
<path d="M1207.14,639.50 V290.71 Q1207.14,289.11 1208.74,289.11 H1209.44 Q1211.04,289.11 1211.04,290.71 V639.50Z"/>
<path d="M1213.46,639.50 V432.30 Q1213.46,430.70 1215.06,430.70 H1215.76 Q1217.36,430.70 1217.36,432.30 V639.50Z"/>
<path d="M1219.78,639.50 V539.96 Q1219.78,538.36 1221.38,538.36 H1222.08 Q1223.68,538.36 1223.68,539.96 V639.50Z"/>
<path d="M1226.10,639.50 V575.85 Q1226.10,574.25 1227.70,574.25 H1228.40 Q1230.00,574.25 1230.00,575.85 V639.50Z"/>
<path d="M1232.42,639.50 V606.71 Q1232.42,605.11 1234.02,605.11 H1234.72 Q1236.32,605.11 1236.32,606.71 V639.50Z"/>
<path d="M1238.74,639.50 V166.73 Q1238.74,165.13 1240.34,165.13 H1241.04 Q1242.64,165.13 1242.64,166.73 V639.50Z"/>
<path d="M1245.06,639.50 V383.36 Q1245.06,381.76 1246.66,381.76 H1247.36 Q1248.96,381.76 1248.96,383.36 V639.50Z"/>
<path d="M1251.38,639.50 V591.12 Q1251.38,589.52 1252.98,589.52 H1253.68 Q1255.28,589.52 1255.28,591.12 V639.50Z"/>
<path d="M1257.71,639.50 V252.21 Q1257.71,250.61 1259.31,250.61 H1260.01 Q1261.61,250.61 1261.61,252.21 V639.50Z"/>
<path d="M1264.03,639.50 V602.60 Q1264.03,601.00 1265.63,601.00 H1266.33 Q1267.93,601.00 1267.93,602.60 V639.50Z"/>
<path d="M1270.35,639.50 V553.34 Q1270.35,551.74 1271.95,551.74 H1272.65 Q1274.25,551.74 1274.25,553.34 V639.50Z"/>
<path d="M1276.67,639.50 V467.54 Q1276.67,465.94 1278.27,465.94 H1278.97 Q1280.57,465.94 1280.57,467.54 V639.50Z"/>
<path d="M1282.99,639.50 V380.75 Q1282.99,379.15 1284.59,379.15 H1285.29 Q1286.89,379.15 1286.89,380.75 V639.50Z"/>
<path d="M1289.31,639.50 V600.64 Q1289.31,599.04 1290.91,599.04 H1291.61 Q1293.21,599.04 1293.21,600.64 V639.50Z"/>
<path d="M1295.63,639.50 V618.26 Q1295.63,616.66 1297.23,616.66 H1297.93 Q1299.53,616.66 1299.53,618.26 V639.50Z"/>
<path d="M1301.95,639.50 V417.95 Q1301.95,416.35 1303.55,416.35 H1304.25 Q1305.85,416.35 1305.85,417.95 V639.50Z"/>
<path d="M1308.27,639.50 V604.76 Q1308.27,603.16 1309.87,603.16 H1310.57 Q1312.17,603.16 1312.17,604.76 V639.50Z"/>
<path d="M1314.59,639.50 V364.18 Q1314.59,362.58 1316.19,362.58 H1316.89 Q1318.49,362.58 1318.49,364.18 V639.50Z"/>
<path d="M1320.92,639.50 V614.67 Q1320.92,613.07 1322.52,613.07 H1323.22 Q1324.82,613.07 1324.82,614.67 V639.50Z"/>
<path d="M1327.24,639.50 V595.43 Q1327.24,593.83 1328.84,593.83 H1329.54 Q1331.14,593.83 1331.14,595.43 V639.50Z"/>
<path d="M1333.56,639.50 V574.55 Q1333.56,572.95 1335.16,572.95 H1335.86 Q1337.46,572.95 1337.46,574.55 V639.50Z"/>
<path d="M1339.88,639.50 V601.43 Q1339.88,599.83 1341.48,599.83 H1342.18 Q1343.78,599.83 1343.78,601.43 V639.50Z"/>
<path d="M1346.20,639.50 V506.69 Q1346.20,505.09 1347.80,505.09 H1348.50 Q1350.10,505.09 1350.10,506.69 V639.50Z"/>
<path d="M1352.52,639.50 V587.60 Q1352.52,586.00 1354.12,586.00 H1354.82 Q1356.42,586.00 1356.42,587.60 V639.50Z"/>
<path d="M1358.84,639.50 V431.19 Q1358.84,429.59 1360.44,429.59 H1361.14 Q1362.74,429.59 1362.74,431.19 V639.50Z"/>
<path d="M1365.16,639.50 V617.61 Q1365.16,616.01 1366.76,616.01 H1367.46 Q1369.06,616.01 1369.06,617.61 V639.50Z"/>
<path d="M1371.48,639.50 V590.86 Q1371.48,589.26 1373.08,589.26 H1373.78 Q1375.38,589.26 1375.38,590.86 V639.50Z"/>
<path d="M1377.80,639.50 V441.63 Q1377.80,440.03 1379.40,440.03 H1380.10 Q1381.70,440.03 1381.70,441.63 V639.50Z"/>
<path d="M1384.12,639.50 V594.77 Q1384.12,593.17 1385.72,593.17 H1386.42 Q1388.02,593.17 1388.02,594.77 V639.50Z"/>
<path d="M1390.45,639.50 V612.72 Q1390.45,611.12 1392.05,611.12 H1392.75 Q1394.35,611.12 1394.35,612.72 V639.50Z"/>
<path d="M1396.77,639.50 V592.82 Q1396.77,591.22 1398.37,591.22 H1399.07 Q1400.67,591.22 1400.67,592.82 V639.50Z"/>
<path d="M1403.09,639.50 V536.70 Q1403.09,535.10 1404.69,535.10 H1405.39 Q1406.99,535.10 1406.99,536.70 V639.50Z"/>
<path d="M1409.41,639.50 V611.74 Q1409.41,610.14 1411.01,610.14 H1411.71 Q1413.31,610.14 1413.31,611.74 V639.50Z"/>
<path d="M1415.73,639.50 V613.04 Q1415.73,611.44 1417.33,611.44 H1418.03 Q1419.63,611.44 1419.63,613.04 V639.50Z"/>
<path d="M1422.05,639.50 V568.67 Q1422.05,567.07 1423.65,567.07 H1424.35 Q1425.95,567.07 1425.95,568.67 V639.50Z"/>
</g>
<line x1="60.2" x2="1427.8" y1="639.45" y2="639.45" stroke="#2a2f3a" stroke-width="1.1"/>
<line x1="65.0" x2="1424.0" y1="524.99" y2="524.99" stroke="#0000c8" stroke-width="2.0"/>
<polyline fill="none" stroke="#bf4b4c" stroke-width="2.9" stroke-linejoin="round" stroke-linecap="round" points="102.9,579.9 109.2,585.4 115.6,585.7 121.9,587.8 128.2,588.6 134.5,589.5 140.9,591.2 147.2,587.4 153.5,585.5 159.8,586.8 166.1,589.0 172.5,592.4 178.8,595.4 185.1,592.5 191.4,587.6 197.7,585.2 204.1,581.7 210.4,580.9 216.7,578.7 223.0,577.6 229.3,581.1 235.7,584.1 242.0,588.1 248.3,589.6 254.6,585.4 260.9,579.5 267.3,581.2 273.6,584.5 279.9,587.9 286.2,583.4 292.6,583.4 298.9,582.5 305.2,581.1 311.5,572.0 317.8,570.9 324.2,565.1 330.5,563.3 336.8,557.3 343.1,555.2 349.4,561.8 355.8,562.5 362.1,556.3 368.4,551.3 374.7,547.1 381.0,545.1 387.4,542.6 393.7,534.3 400.0,522.4 406.3,519.2 412.7,515.8 419.0,515.0 425.3,514.5 431.6,510.0 437.9,510.3 444.3,528.4 450.6,537.8 456.9,548.7 463.2,548.1 469.5,553.2 475.9,554.6 482.2,555.3 488.5,551.5 494.8,542.8 501.1,540.2 507.5,544.8 513.8,544.4 520.1,560.3 526.4,557.1 532.7,559.9 539.1,560.0 545.4,559.0 551.7,558.0 558.0,552.8 564.4,535.0 570.7,534.9 577.0,529.3 583.3,536.4 589.6,536.2 596.0,538.9 602.3,547.0 608.6,551.8 614.9,552.6 621.2,556.0 627.6,553.3 633.9,559.4 640.2,566.8 646.5,567.6 652.8,574.2 659.2,580.2 665.5,586.4 671.8,593.2 678.1,586.6 684.5,586.6 690.8,585.8 697.1,589.3 703.4,593.9 709.7,593.3 716.1,589.4 722.4,596.0 728.7,596.1 735.0,596.1 741.3,592.2 747.7,592.9 754.0,585.2 760.3,580.6 766.6,577.9 772.9,570.6 779.3,564.7 785.6,557.9 791.9,553.6 798.2,556.1 804.5,553.6 810.9,549.1 817.2,542.7 823.5,541.2 829.8,546.1 836.2,542.7 842.5,535.0 848.8,548.3 855.1,562.5 861.4,579.8 867.8,585.2 874.1,585.9 880.4,598.0 886.7,602.1 893.0,594.4 899.4,583.9 905.7,578.1 912.0,562.3 918.3,568.8 924.6,559.4 931.0,566.0 937.3,566.0 943.6,560.2 949.9,542.2 956.3,539.9 962.6,509.9 968.9,514.5 975.2,513.3 981.5,515.4 987.9,523.5 994.2,537.1 1000.5,520.4 1006.8,546.6 1013.1,541.6 1019.5,540.8 1025.8,539.5 1032.1,509.3 1038.4,499.8 1044.7,540.1 1051.1,502.1 1057.4,482.8 1063.7,483.9 1070.0,487.7 1076.3,521.1 1082.7,535.3 1089.0,522.6 1095.3,555.8 1101.6,543.8 1108.0,546.3 1114.3,542.3 1120.6,539.4 1126.9,519.1 1133.2,532.2 1139.6,511.2 1145.9,544.0 1152.2,544.5 1158.5,550.7 1164.8,524.1 1171.2,547.8 1177.5,506.7 1183.8,529.9 1190.1,534.1 1196.4,528.3 1202.8,527.1 1209.1,510.5 1215.4,482.1 1221.7,512.6 1228.1,513.2 1234.4,513.0 1240.7,454.4 1247.0,421.7 1253.3,465.5 1259.7,439.2 1266.0,448.4 1272.3,445.1 1278.6,424.8 1284.9,456.0 1291.3,487.7 1297.6,491.7 1303.9,515.9 1310.2,516.2 1316.5,488.6 1322.9,510.1 1329.2,541.4 1335.5,537.6 1341.8,535.1 1348.1,548.1 1354.5,545.6 1360.8,555.4 1367.1,555.8 1373.4,555.1 1379.8,535.7 1386.1,534.8 1392.4,550.2 1398.7,551.0 1405.0,566.4 1411.4,565.6 1417.7,568.8 1424.0,587.3"/>
<g id="xlabels" class="sf" font-size="10.83" fill="#000" text-anchor="end">
<text transform="translate(67.90 645.7) rotate(-90)">2025-01-01 00:00:00</text>
<text transform="translate(80.54 645.7) rotate(-90)">2025-01-03 00:00:00</text>
<text transform="translate(93.18 645.7) rotate(-90)">2025-01-05 00:00:00</text>
<text transform="translate(105.83 645.7) rotate(-90)">2025-01-07 00:00:00</text>
<text transform="translate(118.47 645.7) rotate(-90)">2025-01-09 00:00:00</text>
<text transform="translate(131.11 645.7) rotate(-90)">2025-01-11 00:00:00</text>
<text transform="translate(143.75 645.7) rotate(-90)">2025-01-13 00:00:00</text>
<text transform="translate(156.39 645.7) rotate(-90)">2025-01-15 00:00:00</text>
<text transform="translate(169.03 645.7) rotate(-90)">2025-01-17 00:00:00</text>
<text transform="translate(181.68 645.7) rotate(-90)">2025-01-19 00:00:00</text>
<text transform="translate(194.32 645.7) rotate(-90)">2025-01-21 00:00:00</text>
<text transform="translate(206.96 645.7) rotate(-90)">2025-01-23 00:00:00</text>
<text transform="translate(219.60 645.7) rotate(-90)">2025-01-25 00:00:00</text>
<text transform="translate(232.24 645.7) rotate(-90)">2025-01-27 00:00:00</text>
<text transform="translate(244.89 645.7) rotate(-90)">2025-01-29 00:00:00</text>
<text transform="translate(257.53 645.7) rotate(-90)">2025-01-31 00:00:00</text>
<text transform="translate(270.17 645.7) rotate(-90)">2025-02-02 00:00:00</text>
<text transform="translate(282.81 645.7) rotate(-90)">2025-02-04 00:00:00</text>
<text transform="translate(295.45 645.7) rotate(-90)">2025-02-06 00:00:00</text>
<text transform="translate(308.10 645.7) rotate(-90)">2025-02-08 00:00:00</text>
<text transform="translate(320.74 645.7) rotate(-90)">2025-02-10 00:00:00</text>
<text transform="translate(333.38 645.7) rotate(-90)">2025-02-12 00:00:00</text>
<text transform="translate(346.02 645.7) rotate(-90)">2025-02-14 00:00:00</text>
<text transform="translate(358.66 645.7) rotate(-90)">2025-02-16 00:00:00</text>
<text transform="translate(371.30 645.7) rotate(-90)">2025-02-18 00:00:00</text>
<text transform="translate(383.95 645.7) rotate(-90)">2025-02-20 00:00:00</text>
<text transform="translate(396.59 645.7) rotate(-90)">2025-02-22 00:00:00</text>
<text transform="translate(409.23 645.7) rotate(-90)">2025-02-24 00:00:00</text>
<text transform="translate(421.87 645.7) rotate(-90)">2025-02-26 00:00:00</text>
<text transform="translate(434.51 645.7) rotate(-90)">2025-02-28 00:00:00</text>
<text transform="translate(447.16 645.7) rotate(-90)">2025-03-02 00:00:00</text>
<text transform="translate(459.80 645.7) rotate(-90)">2025-03-04 00:00:00</text>
<text transform="translate(472.44 645.7) rotate(-90)">2025-03-06 00:00:00</text>
<text transform="translate(485.08 645.7) rotate(-90)">2025-03-08 00:00:00</text>
<text transform="translate(497.72 645.7) rotate(-90)">2025-03-10 00:00:00</text>
<text transform="translate(510.37 645.7) rotate(-90)">2025-03-12 00:00:00</text>
<text transform="translate(523.01 645.7) rotate(-90)">2025-03-14 00:00:00</text>
<text transform="translate(535.65 645.7) rotate(-90)">2025-03-16 00:00:00</text>
<text transform="translate(548.29 645.7) rotate(-90)">2025-03-18 00:00:00</text>
<text transform="translate(560.93 645.7) rotate(-90)">2025-03-20 00:00:00</text>
<text transform="translate(573.57 645.7) rotate(-90)">2025-03-22 00:00:00</text>
<text transform="translate(586.22 645.7) rotate(-90)">2025-03-24 00:00:00</text>
<text transform="translate(598.86 645.7) rotate(-90)">2025-03-26 00:00:00</text>
<text transform="translate(611.50 645.7) rotate(-90)">2025-03-28 00:00:00</text>
<text transform="translate(624.14 645.7) rotate(-90)">2025-03-30 00:00:00</text>
<text transform="translate(636.78 645.7) rotate(-90)">2025-04-02 00:00:00</text>
<text transform="translate(649.43 645.7) rotate(-90)">2025-04-04 00:00:00</text>
<text transform="translate(662.07 645.7) rotate(-90)">2025-04-06 00:00:00</text>
<text transform="translate(674.71 645.7) rotate(-90)">2025-04-09 00:00:00</text>
<text transform="translate(687.35 645.7) rotate(-90)">2025-04-11 00:00:00</text>
<text transform="translate(699.99 645.7) rotate(-90)">2025-04-13 00:00:00</text>
<text transform="translate(712.63 645.7) rotate(-90)">2025-04-15 00:00:00</text>
<text transform="translate(725.28 645.7) rotate(-90)">2025-04-17 00:00:00</text>
<text transform="translate(737.92 645.7) rotate(-90)">2025-04-19 00:00:00</text>
<text transform="translate(750.56 645.7) rotate(-90)">2025-04-22 00:00:00</text>
<text transform="translate(763.20 645.7) rotate(-90)">2025-04-24 00:00:00</text>
<text transform="translate(775.84 645.7) rotate(-90)">2025-04-26 00:00:00</text>
<text transform="translate(788.49 645.7) rotate(-90)">2025-04-28 00:00:00</text>
<text transform="translate(801.13 645.7) rotate(-90)">2025-04-30 00:00:00</text>
<text transform="translate(813.77 645.7) rotate(-90)">2025-05-02 00:00:00</text>
<text transform="translate(826.41 645.7) rotate(-90)">2025-05-04 00:00:00</text>
<text transform="translate(839.05 645.7) rotate(-90)">2025-05-06 00:00:00</text>
<text transform="translate(851.70 645.7) rotate(-90)">2025-05-08 00:00:00</text>
<text transform="translate(864.34 645.7) rotate(-90)">2025-05-10 00:00:00</text>
<text transform="translate(876.98 645.7) rotate(-90)">2025-05-12 00:00:00</text>
<text transform="translate(889.62 645.7) rotate(-90)">2025-05-14 00:00:00</text>
<text transform="translate(902.26 645.7) rotate(-90)">2025-05-16 00:00:00</text>
<text transform="translate(914.90 645.7) rotate(-90)">2025-05-18 00:00:00</text>
<text transform="translate(927.55 645.7) rotate(-90)">2025-05-20 00:00:00</text>
<text transform="translate(940.19 645.7) rotate(-90)">2025-05-22 00:00:00</text>
<text transform="translate(952.83 645.7) rotate(-90)">2025-05-24 00:00:00</text>
<text transform="translate(965.47 645.7) rotate(-90)">2025-05-26 00:00:00</text>
<text transform="translate(978.11 645.7) rotate(-90)">2025-05-28 00:00:00</text>
<text transform="translate(990.76 645.7) rotate(-90)">2025-05-30 00:00:00</text>
<text transform="translate(1003.40 645.7) rotate(-90)">2025-06-01 00:00:00</text>
<text transform="translate(1016.04 645.7) rotate(-90)">2025-06-03 00:00:00</text>
<text transform="translate(1028.68 645.7) rotate(-90)">2025-06-05 00:00:00</text>
<text transform="translate(1041.32 645.7) rotate(-90)">2025-06-07 00:00:00</text>
<text transform="translate(1053.97 645.7) rotate(-90)">2025-06-09 00:00:00</text>
<text transform="translate(1066.61 645.7) rotate(-90)">2025-06-11 00:00:00</text>
<text transform="translate(1079.25 645.7) rotate(-90)">2025-06-13 00:00:00</text>
<text transform="translate(1091.89 645.7) rotate(-90)">2025-06-15 00:00:00</text>
<text transform="translate(1104.53 645.7) rotate(-90)">2025-06-17 00:00:00</text>
<text transform="translate(1117.17 645.7) rotate(-90)">2025-06-19 00:00:00</text>
<text transform="translate(1129.82 645.7) rotate(-90)">2025-06-21 00:00:00</text>
<text transform="translate(1142.46 645.7) rotate(-90)">2025-06-23 00:00:00</text>
<text transform="translate(1155.10 645.7) rotate(-90)">2025-06-25 00:00:00</text>
<text transform="translate(1167.74 645.7) rotate(-90)">2025-06-27 00:00:00</text>
<text transform="translate(1180.38 645.7) rotate(-90)">2025-06-29 00:00:00</text>
<text transform="translate(1193.03 645.7) rotate(-90)">2025-07-01 00:00:00</text>
<text transform="translate(1205.67 645.7) rotate(-90)">2025-07-03 00:00:00</text>
<text transform="translate(1218.31 645.7) rotate(-90)">2025-07-05 00:00:00</text>
<text transform="translate(1230.95 645.7) rotate(-90)">2025-07-07 00:00:00</text>
<text transform="translate(1243.59 645.7) rotate(-90)">2025-07-09 00:00:00</text>
<text transform="translate(1256.23 645.7) rotate(-90)">2025-07-11 00:00:00</text>
<text transform="translate(1268.88 645.7) rotate(-90)">2025-07-13 00:00:00</text>
<text transform="translate(1281.52 645.7) rotate(-90)">2025-07-15 00:00:00</text>
<text transform="translate(1294.16 645.7) rotate(-90)">2025-07-17 00:00:00</text>
<text transform="translate(1306.80 645.7) rotate(-90)">2025-07-19 00:00:00</text>
<text transform="translate(1319.44 645.7) rotate(-90)">2025-07-21 00:00:00</text>
<text transform="translate(1332.09 645.7) rotate(-90)">2025-07-23 00:00:00</text>
<text transform="translate(1344.73 645.7) rotate(-90)">2025-07-25 00:00:00</text>
<text transform="translate(1357.37 645.7) rotate(-90)">2025-07-27 00:00:00</text>
<text transform="translate(1370.01 645.7) rotate(-90)">2025-07-29 00:00:00</text>
<text transform="translate(1382.65 645.7) rotate(-90)">2025-07-31 00:00:00</text>
<text transform="translate(1395.30 645.7) rotate(-90)">2025-08-02 00:00:00</text>
<text transform="translate(1407.94 645.7) rotate(-90)">2025-08-04 00:00:00</text>
<text transform="translate(1420.58 645.7) rotate(-90)">2025-08-06 00:00:00</text>
</g>
<g id="title" class="sf">
<g font-weight="normal" font-size="54.90" fill="#0c0c0c" letter-spacing="5.50">
<text x="181.01" y="56.80" textLength="214.69" lengthAdjust="spacingAndGlyphs">КОЛИЧЕСТВО</text>
<text x="181.76" y="56.80" textLength="214.69" lengthAdjust="spacingAndGlyphs">КОЛИЧЕСТВО</text>
<text x="182.51" y="56.80" textLength="214.69" lengthAdjust="spacingAndGlyphs">КОЛИЧЕСТВО</text>
<text x="183.26" y="56.80" textLength="214.69" lengthAdjust="spacingAndGlyphs">КОЛИЧЕСТВО</text>
<text x="184.01" y="56.80" textLength="214.69" lengthAdjust="spacingAndGlyphs">КОЛИЧЕСТВО</text>
<text x="400.28" y="56.80" textLength="235.98" lengthAdjust="spacingAndGlyphs">ЗАПУЩЕННЫХ</text>
<text x="401.03" y="56.80" textLength="235.98" lengthAdjust="spacingAndGlyphs">ЗАПУЩЕННЫХ</text>
<text x="401.78" y="56.80" textLength="235.98" lengthAdjust="spacingAndGlyphs">ЗАПУЩЕННЫХ</text>
<text x="402.53" y="56.80" textLength="235.98" lengthAdjust="spacingAndGlyphs">ЗАПУЩЕННЫХ</text>
<text x="403.28" y="56.80" textLength="235.98" lengthAdjust="spacingAndGlyphs">ЗАПУЩЕННЫХ</text>
<text x="644.83" y="56.80" textLength="43.34" lengthAdjust="spacingAndGlyphs">РУ</text>
<text x="645.58" y="56.80" textLength="43.34" lengthAdjust="spacingAndGlyphs">РУ</text>
<text x="646.33" y="56.80" textLength="43.34" lengthAdjust="spacingAndGlyphs">РУ</text>
<text x="647.08" y="56.80" textLength="43.34" lengthAdjust="spacingAndGlyphs">РУ</text>
<text x="647.83" y="56.80" textLength="43.34" lengthAdjust="spacingAndGlyphs">РУ</text>
<text x="696.72" y="56.80" textLength="312.32" lengthAdjust="spacingAndGlyphs">БПЛА-КАМИКАДЗЕ</text>
<text x="697.47" y="56.80" textLength="312.32" lengthAdjust="spacingAndGlyphs">БПЛА-КАМИКАДЗЕ</text>
<text x="698.22" y="56.80" textLength="312.32" lengthAdjust="spacingAndGlyphs">БПЛА-КАМИКАДЗЕ</text>
<text x="698.97" y="56.80" textLength="312.32" lengthAdjust="spacingAndGlyphs">БПЛА-КАМИКАДЗЕ</text>
<text x="699.72" y="56.80" textLength="312.32" lengthAdjust="spacingAndGlyphs">БПЛА-КАМИКАДЗЕ</text>
<text x="1016.34" y="56.80" textLength="20.31" lengthAdjust="spacingAndGlyphs">С</text>
<text x="1017.09" y="56.80" textLength="20.31" lengthAdjust="spacingAndGlyphs">С</text>
<text x="1017.84" y="56.80" textLength="20.31" lengthAdjust="spacingAndGlyphs">С</text>
<text x="1018.59" y="56.80" textLength="20.31" lengthAdjust="spacingAndGlyphs">С</text>
<text x="1019.34" y="56.80" textLength="20.31" lengthAdjust="spacingAndGlyphs">С</text>
<text x="1044.75" y="56.80" textLength="130.68" lengthAdjust="spacingAndGlyphs">НАЧАЛА</text>
<text x="1045.50" y="56.80" textLength="130.68" lengthAdjust="spacingAndGlyphs">НАЧАЛА</text>
<text x="1046.25" y="56.80" textLength="130.68" lengthAdjust="spacingAndGlyphs">НАЧАЛА</text>
<text x="1047.00" y="56.80" textLength="130.68" lengthAdjust="spacingAndGlyphs">НАЧАЛА</text>
<text x="1047.75" y="56.80" textLength="130.68" lengthAdjust="spacingAndGlyphs">НАЧАЛА</text>
<text x="1183.96" y="56.80" textLength="98.27" lengthAdjust="spacingAndGlyphs">ГОДА:</text>
<text x="1184.71" y="56.80" textLength="98.27" lengthAdjust="spacingAndGlyphs">ГОДА:</text>
<text x="1185.46" y="56.80" textLength="98.27" lengthAdjust="spacingAndGlyphs">ГОДА:</text>
<text x="1186.21" y="56.80" textLength="98.27" lengthAdjust="spacingAndGlyphs">ГОДА:</text>
<text x="1186.96" y="56.80" textLength="98.27" lengthAdjust="spacingAndGlyphs">ГОДА:</text>
</g>
</g>
<g id="legend" class="sf">
<rect x="237.3" y="77.0" width="24.7" height="24.6" fill="#6d9eeb"/>
<rect x="431.2" y="77.0" width="24.7" height="24.6" fill="#c0504d"/>
<rect x="884.2" y="77.0" width="24.7" height="24.6" fill="#0000ff"/>
<g font-weight="normal" font-size="24.70" fill="#0c0c0c" letter-spacing="3.80">
<text x="263.84" y="98.20" textLength="50.18" lengthAdjust="spacingAndGlyphs">ПУСКИ</text>
<text x="264.34" y="98.20" textLength="50.18" lengthAdjust="spacingAndGlyphs">ПУСКИ</text>
<text x="264.84" y="98.20" textLength="50.18" lengthAdjust="spacingAndGlyphs">ПУСКИ</text>
<text x="265.34" y="98.20" textLength="50.18" lengthAdjust="spacingAndGlyphs">ПУСКИ</text>
<text x="265.84" y="98.20" textLength="50.18" lengthAdjust="spacingAndGlyphs">ПУСКИ</text>
<text x="319.30" y="98.20" textLength="20.06" lengthAdjust="spacingAndGlyphs">РУ</text>
<text x="319.80" y="98.20" textLength="20.06" lengthAdjust="spacingAndGlyphs">РУ</text>
<text x="320.30" y="98.20" textLength="20.06" lengthAdjust="spacingAndGlyphs">РУ</text>
<text x="320.80" y="98.20" textLength="20.06" lengthAdjust="spacingAndGlyphs">РУ</text>
<text x="321.30" y="98.20" textLength="20.06" lengthAdjust="spacingAndGlyphs">РУ</text>
<text x="345.03" y="98.20" textLength="42.57" lengthAdjust="spacingAndGlyphs">БПЛА</text>
<text x="345.53" y="98.20" textLength="42.57" lengthAdjust="spacingAndGlyphs">БПЛА</text>
<text x="346.03" y="98.20" textLength="42.57" lengthAdjust="spacingAndGlyphs">БПЛА</text>
<text x="346.53" y="98.20" textLength="42.57" lengthAdjust="spacingAndGlyphs">БПЛА</text>
<text x="347.03" y="98.20" textLength="42.57" lengthAdjust="spacingAndGlyphs">БПЛА</text>
<text x="459.75" y="98.20" textLength="65.15" lengthAdjust="spacingAndGlyphs">СРЕДНЕЕ</text>
<text x="460.25" y="98.20" textLength="65.15" lengthAdjust="spacingAndGlyphs">СРЕДНЕЕ</text>
<text x="460.75" y="98.20" textLength="65.15" lengthAdjust="spacingAndGlyphs">СРЕДНЕЕ</text>
<text x="461.25" y="98.20" textLength="65.15" lengthAdjust="spacingAndGlyphs">СРЕДНЕЕ</text>
<text x="461.75" y="98.20" textLength="65.15" lengthAdjust="spacingAndGlyphs">СРЕДНЕЕ</text>
<text x="532.12" y="98.20" textLength="59.33" lengthAdjust="spacingAndGlyphs">КОЛ-ВО</text>
<text x="532.62" y="98.20" textLength="59.33" lengthAdjust="spacingAndGlyphs">КОЛ-ВО</text>
<text x="533.12" y="98.20" textLength="59.33" lengthAdjust="spacingAndGlyphs">КОЛ-ВО</text>
<text x="533.62" y="98.20" textLength="59.33" lengthAdjust="spacingAndGlyphs">КОЛ-ВО</text>
<text x="534.12" y="98.20" textLength="59.33" lengthAdjust="spacingAndGlyphs">КОЛ-ВО</text>
<text x="597.42" y="98.20" textLength="56.28" lengthAdjust="spacingAndGlyphs">ПУСКОВ</text>
<text x="597.92" y="98.20" textLength="56.28" lengthAdjust="spacingAndGlyphs">ПУСКОВ</text>
<text x="598.42" y="98.20" textLength="56.28" lengthAdjust="spacingAndGlyphs">ПУСКОВ</text>
<text x="598.92" y="98.20" textLength="56.28" lengthAdjust="spacingAndGlyphs">ПУСКОВ</text>
<text x="599.42" y="98.20" textLength="56.28" lengthAdjust="spacingAndGlyphs">ПУСКОВ</text>
<text x="658.89" y="98.20" textLength="20.49" lengthAdjust="spacingAndGlyphs">ЗА</text>
<text x="659.39" y="98.20" textLength="20.49" lengthAdjust="spacingAndGlyphs">ЗА</text>
<text x="659.89" y="98.20" textLength="20.49" lengthAdjust="spacingAndGlyphs">ЗА</text>
<text x="660.39" y="98.20" textLength="20.49" lengthAdjust="spacingAndGlyphs">ЗА</text>
<text x="660.89" y="98.20" textLength="20.49" lengthAdjust="spacingAndGlyphs">ЗА</text>
<text x="685.48" y="98.20" textLength="85.73" lengthAdjust="spacingAndGlyphs">ПОСЛЕДНИЕ</text>
<text x="685.98" y="98.20" textLength="85.73" lengthAdjust="spacingAndGlyphs">ПОСЛЕДНИЕ</text>
<text x="686.48" y="98.20" textLength="85.73" lengthAdjust="spacingAndGlyphs">ПОСЛЕДНИЕ</text>
<text x="686.98" y="98.20" textLength="85.73" lengthAdjust="spacingAndGlyphs">ПОСЛЕДНИЕ</text>
<text x="687.48" y="98.20" textLength="85.73" lengthAdjust="spacingAndGlyphs">ПОСЛЕДНИЕ</text>
<text x="778.13" y="98.20" textLength="8.45" lengthAdjust="spacingAndGlyphs">7</text>
<text x="778.63" y="98.20" textLength="8.45" lengthAdjust="spacingAndGlyphs">7</text>
<text x="779.13" y="98.20" textLength="8.45" lengthAdjust="spacingAndGlyphs">7</text>
<text x="779.63" y="98.20" textLength="8.45" lengthAdjust="spacingAndGlyphs">7</text>
<text x="780.13" y="98.20" textLength="8.45" lengthAdjust="spacingAndGlyphs">7</text>
<text x="794.19" y="98.20" textLength="40.37" lengthAdjust="spacingAndGlyphs">ДНЕЙ</text>
<text x="794.69" y="98.20" textLength="40.37" lengthAdjust="spacingAndGlyphs">ДНЕЙ</text>
<text x="795.19" y="98.20" textLength="40.37" lengthAdjust="spacingAndGlyphs">ДНЕЙ</text>
<text x="795.69" y="98.20" textLength="40.37" lengthAdjust="spacingAndGlyphs">ДНЕЙ</text>
<text x="796.19" y="98.20" textLength="40.37" lengthAdjust="spacingAndGlyphs">ДНЕЙ</text>
<text x="911.24" y="98.20" textLength="104.78" lengthAdjust="spacingAndGlyphs">ЕЖЕДНЕВНОЕ</text>
<text x="911.74" y="98.20" textLength="104.78" lengthAdjust="spacingAndGlyphs">ЕЖЕДНЕВНОЕ</text>
<text x="912.24" y="98.20" textLength="104.78" lengthAdjust="spacingAndGlyphs">ЕЖЕДНЕВНОЕ</text>
<text x="912.74" y="98.20" textLength="104.78" lengthAdjust="spacingAndGlyphs">ЕЖЕДНЕВНОЕ</text>
<text x="913.24" y="98.20" textLength="104.78" lengthAdjust="spacingAndGlyphs">ЕЖЕДНЕВНОЕ</text>
<text x="1020.36" y="98.20" textLength="117.68" lengthAdjust="spacingAndGlyphs">ПРОИЗВОДСТВО</text>
<text x="1020.86" y="98.20" textLength="117.68" lengthAdjust="spacingAndGlyphs">ПРОИЗВОДСТВО</text>
<text x="1021.36" y="98.20" textLength="117.68" lengthAdjust="spacingAndGlyphs">ПРОИЗВОДСТВО</text>
<text x="1021.86" y="98.20" textLength="117.68" lengthAdjust="spacingAndGlyphs">ПРОИЗВОДСТВО</text>
<text x="1022.36" y="98.20" textLength="117.68" lengthAdjust="spacingAndGlyphs">ПРОИЗВОДСТВО</text>
<text x="1143.90" y="98.20" textLength="38.72" lengthAdjust="spacingAndGlyphs">БПЛА</text>
<text x="1144.40" y="98.20" textLength="38.72" lengthAdjust="spacingAndGlyphs">БПЛА</text>
<text x="1144.90" y="98.20" textLength="38.72" lengthAdjust="spacingAndGlyphs">БПЛА</text>
<text x="1145.40" y="98.20" textLength="38.72" lengthAdjust="spacingAndGlyphs">БПЛА</text>
<text x="1145.90" y="98.20" textLength="38.72" lengthAdjust="spacingAndGlyphs">БПЛА</text>
<text x="1188.45" y="98.20" textLength="58.54" lengthAdjust="spacingAndGlyphs">(ИЮНЬ)</text>
<text x="1188.95" y="98.20" textLength="58.54" lengthAdjust="spacingAndGlyphs">(ИЮНЬ)</text>
<text x="1189.45" y="98.20" textLength="58.54" lengthAdjust="spacingAndGlyphs">(ИЮНЬ)</text>
<text x="1189.95" y="98.20" textLength="58.54" lengthAdjust="spacingAndGlyphs">(ИЮНЬ)</text>
<text x="1190.45" y="98.20" textLength="58.54" lengthAdjust="spacingAndGlyphs">(ИЮНЬ)</text>
</g>
</g>
<g id="footer" fill="#0a0a0a">
<rect x="643.0" y="785.4" width="3.9" height="4.4"/>
<polygon points="652.1,760.9 655.6,760.9 661.95,779.0 668.3,760.9 671.8,760.9 671.8,765.9 663.4,783.6 660.5,783.6 652.1,765.9"/>
<polygon points="692.3,792.2 695.7,792.2 700.3,758.2 696.9,758.2"/>
<polygon points="730.9,760.9 734.6,760.9 725.7,780.5 725.7,773.0"/>
<polygon points="726.6,775.8 729.3,771.6 734.6,789.8 730.9,789.8"/>
<rect x="755.1" y="787.3" width="10.0" height="3.3"/>
<polygon points="807.6,778.2 811.2,778.2 814.3,789.8 810.7,789.8"/>
<polygon points="819.1,789.8 824.4,760.9 829.0,760.9 832.8,789.8 829.3,789.8 827.9,782.5 824.0,782.5 822.6,789.8"/>
<polygon points="825.95,767.9 824.5,779.4 827.4,779.4" fill="#fff"/>
<path d="M624.6,762.60 H638.1 M631.4,760.90 V789.80 M653.80,789.80 V760.90 M670.10,789.80 V760.90 M678.40,760.90 V789.80 M676.7,762.60 H686.6 M676.7,772.0 H685.6 M676.7,788.10 H686.6 M709.40,762.60 H712.10 Q714.80,762.60 714.80,765.30 V785.40 Q714.80,788.10 712.10,788.10 H709.40 Q706.70,788.10 706.70,785.40 V765.30 Q706.70,762.60 709.40,762.60Z M724.00,760.90 V789.80 M742.30,762.60 H745.40 Q748.10,762.60 748.10,765.30 V785.40 Q748.10,788.10 745.40,788.10 H742.30 Q739.60,788.10 739.60,785.40 V765.30 Q739.60,762.60 742.30,762.60Z M779.70,767.8 V765.30 Q779.70,762.60 777.00,762.60 H774.30 Q771.60,762.60 771.60,765.30 V785.40 Q771.60,788.10 774.30,788.10 H777.00 Q779.70,788.10 779.70,785.40 V772.4 H775.6 M790.30,762.60 H793.20 Q795.90,762.60 795.90,765.30 V785.40 Q795.90,788.10 793.20,788.10 H790.30 Q787.60,788.10 787.60,785.40 V765.30 Q787.60,762.60 790.30,762.60Z M804.80,760.90 V789.80 M804.80,762.60 H809.60 Q812.30,762.60 812.30,765.30 V775.6 Q812.30,778.2 809.60,778.2 H804.80" fill="none" stroke="#0a0a0a" stroke-width="3.4"/>
</g>
</svg></body></html>
